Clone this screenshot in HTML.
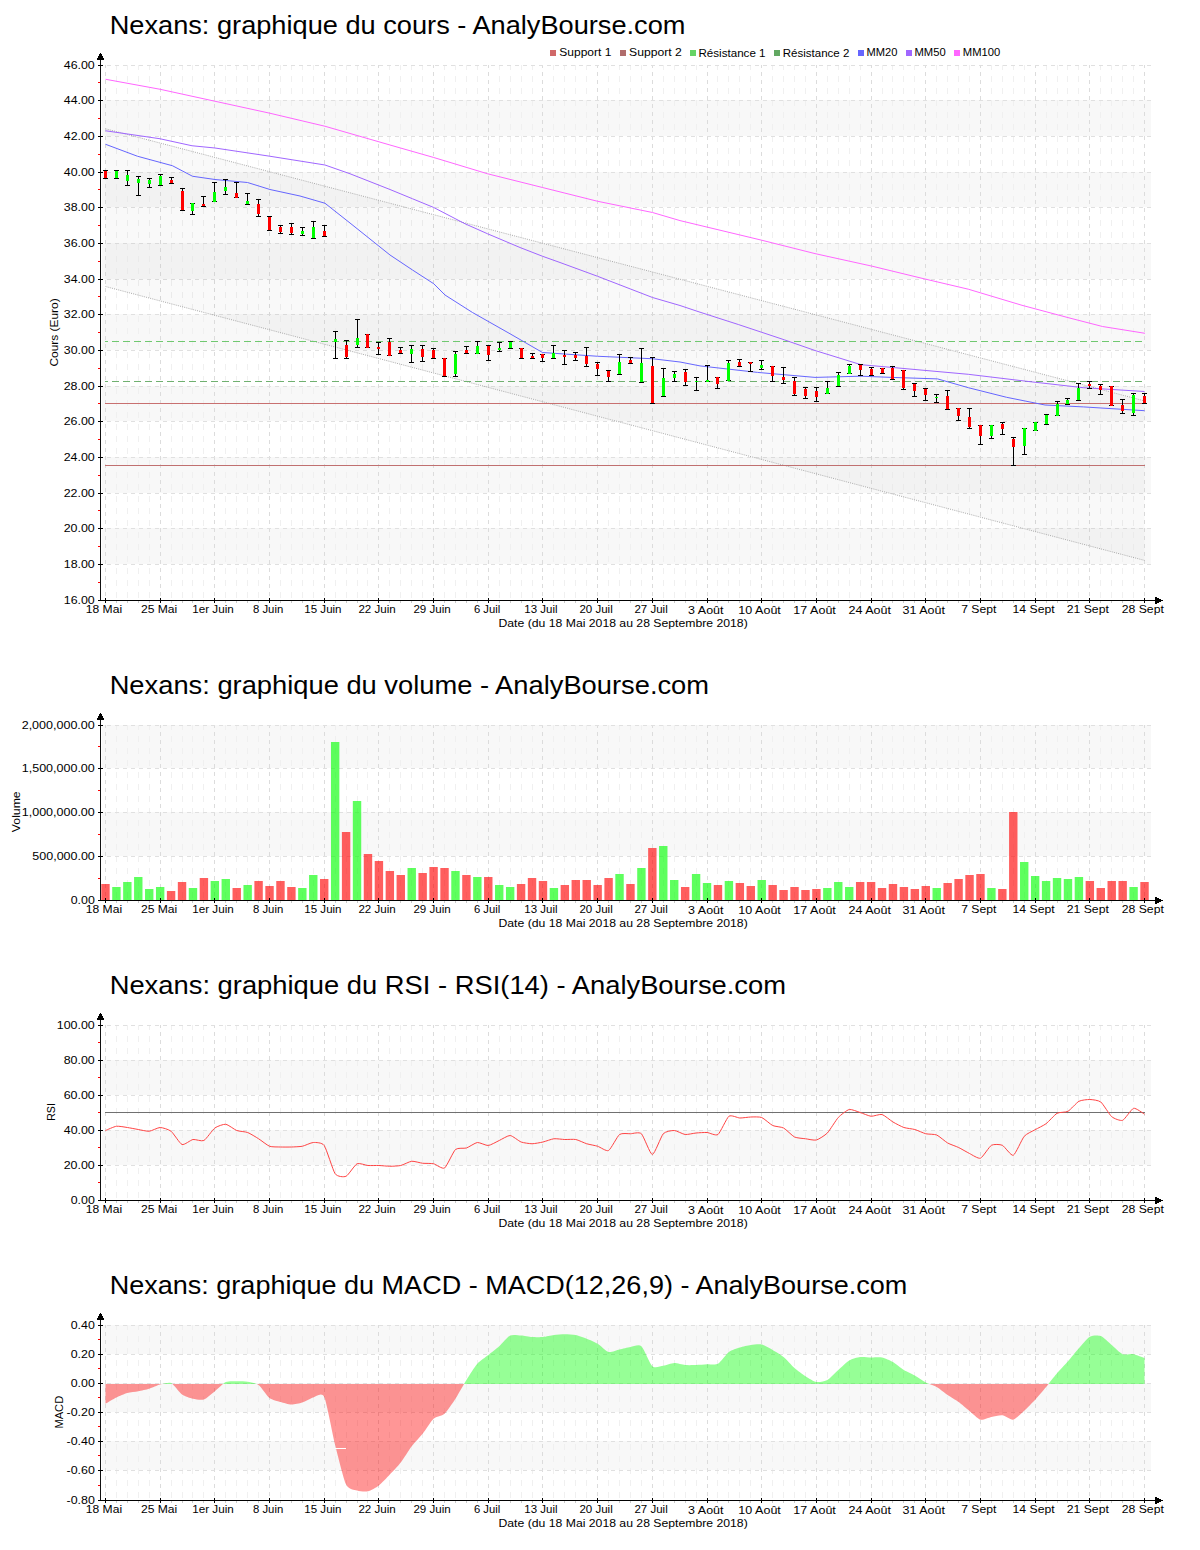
<!DOCTYPE html>
<html><head><meta charset="utf-8"><style>html,body{margin:0;padding:0;background:#fff;}svg{display:block;}</style></head><body>
<svg width="1200" height="1550" viewBox="0 0 1200 1550" font-family='"Liberation Sans", sans-serif'>
<rect width="1200" height="1550" fill="#fff"/>
<rect x="102" y="528" width="1049" height="36" fill="#f8f8f8"/>
<rect x="102" y="457" width="1049" height="36" fill="#f8f8f8"/>
<rect x="102" y="386" width="1049" height="35" fill="#f8f8f8"/>
<rect x="102" y="314" width="1049" height="36" fill="#f8f8f8"/>
<rect x="102" y="243" width="1049" height="36" fill="#f8f8f8"/>
<rect x="102" y="172" width="1049" height="35" fill="#f8f8f8"/>
<rect x="102" y="100" width="1049" height="36" fill="#f8f8f8"/>
<line x1="105.5" y1="65" x2="105.5" y2="600" stroke="#dcdcdc" stroke-dasharray="4 4" stroke-dashoffset="1"/>
<line x1="116.5" y1="65" x2="116.5" y2="600" stroke="#f0f0f0" stroke-dasharray="6 6" stroke-dashoffset="1"/>
<line x1="127.5" y1="65" x2="127.5" y2="600" stroke="#f0f0f0" stroke-dasharray="6 6" stroke-dashoffset="1"/>
<line x1="138.5" y1="65" x2="138.5" y2="600" stroke="#f0f0f0" stroke-dasharray="6 6" stroke-dashoffset="1"/>
<line x1="149.5" y1="65" x2="149.5" y2="600" stroke="#f0f0f0" stroke-dasharray="6 6" stroke-dashoffset="1"/>
<line x1="160.5" y1="65" x2="160.5" y2="600" stroke="#dcdcdc" stroke-dasharray="4 4" stroke-dashoffset="1"/>
<line x1="171.5" y1="65" x2="171.5" y2="600" stroke="#f0f0f0" stroke-dasharray="6 6" stroke-dashoffset="1"/>
<line x1="182.5" y1="65" x2="182.5" y2="600" stroke="#f0f0f0" stroke-dasharray="6 6" stroke-dashoffset="1"/>
<line x1="192.5" y1="65" x2="192.5" y2="600" stroke="#f0f0f0" stroke-dasharray="6 6" stroke-dashoffset="1"/>
<line x1="203.5" y1="65" x2="203.5" y2="600" stroke="#f0f0f0" stroke-dasharray="6 6" stroke-dashoffset="1"/>
<line x1="214.5" y1="65" x2="214.5" y2="600" stroke="#dcdcdc" stroke-dasharray="4 4" stroke-dashoffset="1"/>
<line x1="225.5" y1="65" x2="225.5" y2="600" stroke="#f0f0f0" stroke-dasharray="6 6" stroke-dashoffset="1"/>
<line x1="236.5" y1="65" x2="236.5" y2="600" stroke="#f0f0f0" stroke-dasharray="6 6" stroke-dashoffset="1"/>
<line x1="247.5" y1="65" x2="247.5" y2="600" stroke="#f0f0f0" stroke-dasharray="6 6" stroke-dashoffset="1"/>
<line x1="258.5" y1="65" x2="258.5" y2="600" stroke="#f0f0f0" stroke-dasharray="6 6" stroke-dashoffset="1"/>
<line x1="269.5" y1="65" x2="269.5" y2="600" stroke="#dcdcdc" stroke-dasharray="4 4" stroke-dashoffset="1"/>
<line x1="280.5" y1="65" x2="280.5" y2="600" stroke="#f0f0f0" stroke-dasharray="6 6" stroke-dashoffset="1"/>
<line x1="291.5" y1="65" x2="291.5" y2="600" stroke="#f0f0f0" stroke-dasharray="6 6" stroke-dashoffset="1"/>
<line x1="302.5" y1="65" x2="302.5" y2="600" stroke="#f0f0f0" stroke-dasharray="6 6" stroke-dashoffset="1"/>
<line x1="313.5" y1="65" x2="313.5" y2="600" stroke="#f0f0f0" stroke-dasharray="6 6" stroke-dashoffset="1"/>
<line x1="324.5" y1="65" x2="324.5" y2="600" stroke="#dcdcdc" stroke-dasharray="4 4" stroke-dashoffset="1"/>
<line x1="335.5" y1="65" x2="335.5" y2="600" stroke="#f0f0f0" stroke-dasharray="6 6" stroke-dashoffset="1"/>
<line x1="346.5" y1="65" x2="346.5" y2="600" stroke="#f0f0f0" stroke-dasharray="6 6" stroke-dashoffset="1"/>
<line x1="357.5" y1="65" x2="357.5" y2="600" stroke="#f0f0f0" stroke-dasharray="6 6" stroke-dashoffset="1"/>
<line x1="367.5" y1="65" x2="367.5" y2="600" stroke="#f0f0f0" stroke-dasharray="6 6" stroke-dashoffset="1"/>
<line x1="378.5" y1="65" x2="378.5" y2="600" stroke="#dcdcdc" stroke-dasharray="4 4" stroke-dashoffset="1"/>
<line x1="389.5" y1="65" x2="389.5" y2="600" stroke="#f0f0f0" stroke-dasharray="6 6" stroke-dashoffset="1"/>
<line x1="400.5" y1="65" x2="400.5" y2="600" stroke="#f0f0f0" stroke-dasharray="6 6" stroke-dashoffset="1"/>
<line x1="411.5" y1="65" x2="411.5" y2="600" stroke="#f0f0f0" stroke-dasharray="6 6" stroke-dashoffset="1"/>
<line x1="422.5" y1="65" x2="422.5" y2="600" stroke="#f0f0f0" stroke-dasharray="6 6" stroke-dashoffset="1"/>
<line x1="433.5" y1="65" x2="433.5" y2="600" stroke="#dcdcdc" stroke-dasharray="4 4" stroke-dashoffset="1"/>
<line x1="444.5" y1="65" x2="444.5" y2="600" stroke="#f0f0f0" stroke-dasharray="6 6" stroke-dashoffset="1"/>
<line x1="455.5" y1="65" x2="455.5" y2="600" stroke="#f0f0f0" stroke-dasharray="6 6" stroke-dashoffset="1"/>
<line x1="466.5" y1="65" x2="466.5" y2="600" stroke="#f0f0f0" stroke-dasharray="6 6" stroke-dashoffset="1"/>
<line x1="477.5" y1="65" x2="477.5" y2="600" stroke="#f0f0f0" stroke-dasharray="6 6" stroke-dashoffset="1"/>
<line x1="488.5" y1="65" x2="488.5" y2="600" stroke="#dcdcdc" stroke-dasharray="4 4" stroke-dashoffset="1"/>
<line x1="499.5" y1="65" x2="499.5" y2="600" stroke="#f0f0f0" stroke-dasharray="6 6" stroke-dashoffset="1"/>
<line x1="510.5" y1="65" x2="510.5" y2="600" stroke="#f0f0f0" stroke-dasharray="6 6" stroke-dashoffset="1"/>
<line x1="521.5" y1="65" x2="521.5" y2="600" stroke="#f0f0f0" stroke-dasharray="6 6" stroke-dashoffset="1"/>
<line x1="532.5" y1="65" x2="532.5" y2="600" stroke="#f0f0f0" stroke-dasharray="6 6" stroke-dashoffset="1"/>
<line x1="542.5" y1="65" x2="542.5" y2="600" stroke="#dcdcdc" stroke-dasharray="4 4" stroke-dashoffset="1"/>
<line x1="553.5" y1="65" x2="553.5" y2="600" stroke="#f0f0f0" stroke-dasharray="6 6" stroke-dashoffset="1"/>
<line x1="564.5" y1="65" x2="564.5" y2="600" stroke="#f0f0f0" stroke-dasharray="6 6" stroke-dashoffset="1"/>
<line x1="575.5" y1="65" x2="575.5" y2="600" stroke="#f0f0f0" stroke-dasharray="6 6" stroke-dashoffset="1"/>
<line x1="586.5" y1="65" x2="586.5" y2="600" stroke="#f0f0f0" stroke-dasharray="6 6" stroke-dashoffset="1"/>
<line x1="597.5" y1="65" x2="597.5" y2="600" stroke="#dcdcdc" stroke-dasharray="4 4" stroke-dashoffset="1"/>
<line x1="608.5" y1="65" x2="608.5" y2="600" stroke="#f0f0f0" stroke-dasharray="6 6" stroke-dashoffset="1"/>
<line x1="619.5" y1="65" x2="619.5" y2="600" stroke="#f0f0f0" stroke-dasharray="6 6" stroke-dashoffset="1"/>
<line x1="630.5" y1="65" x2="630.5" y2="600" stroke="#f0f0f0" stroke-dasharray="6 6" stroke-dashoffset="1"/>
<line x1="641.5" y1="65" x2="641.5" y2="600" stroke="#f0f0f0" stroke-dasharray="6 6" stroke-dashoffset="1"/>
<line x1="652.5" y1="65" x2="652.5" y2="600" stroke="#dcdcdc" stroke-dasharray="4 4" stroke-dashoffset="1"/>
<line x1="663.5" y1="65" x2="663.5" y2="600" stroke="#f0f0f0" stroke-dasharray="6 6" stroke-dashoffset="1"/>
<line x1="674.5" y1="65" x2="674.5" y2="600" stroke="#f0f0f0" stroke-dasharray="6 6" stroke-dashoffset="1"/>
<line x1="685.5" y1="65" x2="685.5" y2="600" stroke="#f0f0f0" stroke-dasharray="6 6" stroke-dashoffset="1"/>
<line x1="696.5" y1="65" x2="696.5" y2="600" stroke="#f0f0f0" stroke-dasharray="6 6" stroke-dashoffset="1"/>
<line x1="707.5" y1="65" x2="707.5" y2="600" stroke="#dcdcdc" stroke-dasharray="4 4" stroke-dashoffset="1"/>
<line x1="717.5" y1="65" x2="717.5" y2="600" stroke="#f0f0f0" stroke-dasharray="6 6" stroke-dashoffset="1"/>
<line x1="728.5" y1="65" x2="728.5" y2="600" stroke="#f0f0f0" stroke-dasharray="6 6" stroke-dashoffset="1"/>
<line x1="739.5" y1="65" x2="739.5" y2="600" stroke="#f0f0f0" stroke-dasharray="6 6" stroke-dashoffset="1"/>
<line x1="750.5" y1="65" x2="750.5" y2="600" stroke="#f0f0f0" stroke-dasharray="6 6" stroke-dashoffset="1"/>
<line x1="761.5" y1="65" x2="761.5" y2="600" stroke="#dcdcdc" stroke-dasharray="4 4" stroke-dashoffset="1"/>
<line x1="772.5" y1="65" x2="772.5" y2="600" stroke="#f0f0f0" stroke-dasharray="6 6" stroke-dashoffset="1"/>
<line x1="783.5" y1="65" x2="783.5" y2="600" stroke="#f0f0f0" stroke-dasharray="6 6" stroke-dashoffset="1"/>
<line x1="794.5" y1="65" x2="794.5" y2="600" stroke="#f0f0f0" stroke-dasharray="6 6" stroke-dashoffset="1"/>
<line x1="805.5" y1="65" x2="805.5" y2="600" stroke="#f0f0f0" stroke-dasharray="6 6" stroke-dashoffset="1"/>
<line x1="816.5" y1="65" x2="816.5" y2="600" stroke="#dcdcdc" stroke-dasharray="4 4" stroke-dashoffset="1"/>
<line x1="827.5" y1="65" x2="827.5" y2="600" stroke="#f0f0f0" stroke-dasharray="6 6" stroke-dashoffset="1"/>
<line x1="838.5" y1="65" x2="838.5" y2="600" stroke="#f0f0f0" stroke-dasharray="6 6" stroke-dashoffset="1"/>
<line x1="849.5" y1="65" x2="849.5" y2="600" stroke="#f0f0f0" stroke-dasharray="6 6" stroke-dashoffset="1"/>
<line x1="860.5" y1="65" x2="860.5" y2="600" stroke="#f0f0f0" stroke-dasharray="6 6" stroke-dashoffset="1"/>
<line x1="871.5" y1="65" x2="871.5" y2="600" stroke="#dcdcdc" stroke-dasharray="4 4" stroke-dashoffset="1"/>
<line x1="882.5" y1="65" x2="882.5" y2="600" stroke="#f0f0f0" stroke-dasharray="6 6" stroke-dashoffset="1"/>
<line x1="892.5" y1="65" x2="892.5" y2="600" stroke="#f0f0f0" stroke-dasharray="6 6" stroke-dashoffset="1"/>
<line x1="903.5" y1="65" x2="903.5" y2="600" stroke="#f0f0f0" stroke-dasharray="6 6" stroke-dashoffset="1"/>
<line x1="914.5" y1="65" x2="914.5" y2="600" stroke="#f0f0f0" stroke-dasharray="6 6" stroke-dashoffset="1"/>
<line x1="925.5" y1="65" x2="925.5" y2="600" stroke="#dcdcdc" stroke-dasharray="4 4" stroke-dashoffset="1"/>
<line x1="936.5" y1="65" x2="936.5" y2="600" stroke="#f0f0f0" stroke-dasharray="6 6" stroke-dashoffset="1"/>
<line x1="947.5" y1="65" x2="947.5" y2="600" stroke="#f0f0f0" stroke-dasharray="6 6" stroke-dashoffset="1"/>
<line x1="958.5" y1="65" x2="958.5" y2="600" stroke="#f0f0f0" stroke-dasharray="6 6" stroke-dashoffset="1"/>
<line x1="969.5" y1="65" x2="969.5" y2="600" stroke="#f0f0f0" stroke-dasharray="6 6" stroke-dashoffset="1"/>
<line x1="980.5" y1="65" x2="980.5" y2="600" stroke="#dcdcdc" stroke-dasharray="4 4" stroke-dashoffset="1"/>
<line x1="991.5" y1="65" x2="991.5" y2="600" stroke="#f0f0f0" stroke-dasharray="6 6" stroke-dashoffset="1"/>
<line x1="1002.5" y1="65" x2="1002.5" y2="600" stroke="#f0f0f0" stroke-dasharray="6 6" stroke-dashoffset="1"/>
<line x1="1013.5" y1="65" x2="1013.5" y2="600" stroke="#f0f0f0" stroke-dasharray="6 6" stroke-dashoffset="1"/>
<line x1="1024.5" y1="65" x2="1024.5" y2="600" stroke="#f0f0f0" stroke-dasharray="6 6" stroke-dashoffset="1"/>
<line x1="1035.5" y1="65" x2="1035.5" y2="600" stroke="#dcdcdc" stroke-dasharray="4 4" stroke-dashoffset="1"/>
<line x1="1046.5" y1="65" x2="1046.5" y2="600" stroke="#f0f0f0" stroke-dasharray="6 6" stroke-dashoffset="1"/>
<line x1="1057.5" y1="65" x2="1057.5" y2="600" stroke="#f0f0f0" stroke-dasharray="6 6" stroke-dashoffset="1"/>
<line x1="1067.5" y1="65" x2="1067.5" y2="600" stroke="#f0f0f0" stroke-dasharray="6 6" stroke-dashoffset="1"/>
<line x1="1078.5" y1="65" x2="1078.5" y2="600" stroke="#f0f0f0" stroke-dasharray="6 6" stroke-dashoffset="1"/>
<line x1="1089.5" y1="65" x2="1089.5" y2="600" stroke="#dcdcdc" stroke-dasharray="4 4" stroke-dashoffset="1"/>
<line x1="1100.5" y1="65" x2="1100.5" y2="600" stroke="#f0f0f0" stroke-dasharray="6 6" stroke-dashoffset="1"/>
<line x1="1111.5" y1="65" x2="1111.5" y2="600" stroke="#f0f0f0" stroke-dasharray="6 6" stroke-dashoffset="1"/>
<line x1="1122.5" y1="65" x2="1122.5" y2="600" stroke="#f0f0f0" stroke-dasharray="6 6" stroke-dashoffset="1"/>
<line x1="1133.5" y1="65" x2="1133.5" y2="600" stroke="#f0f0f0" stroke-dasharray="6 6" stroke-dashoffset="1"/>
<line x1="1144.5" y1="65" x2="1144.5" y2="600" stroke="#dcdcdc" stroke-dasharray="4 4" stroke-dashoffset="1"/>
<line x1="107" y1="65.5" x2="1151" y2="65.5" stroke="#e0e0e0" stroke-dasharray="4 4"/>
<line x1="107" y1="100.5" x2="1151" y2="100.5" stroke="#e0e0e0" stroke-dasharray="4 4"/>
<line x1="107" y1="136.5" x2="1151" y2="136.5" stroke="#e0e0e0" stroke-dasharray="4 4"/>
<line x1="107" y1="172.5" x2="1151" y2="172.5" stroke="#e0e0e0" stroke-dasharray="4 4"/>
<line x1="107" y1="207.5" x2="1151" y2="207.5" stroke="#e0e0e0" stroke-dasharray="4 4"/>
<line x1="107" y1="243.5" x2="1151" y2="243.5" stroke="#e0e0e0" stroke-dasharray="4 4"/>
<line x1="107" y1="279.5" x2="1151" y2="279.5" stroke="#e0e0e0" stroke-dasharray="4 4"/>
<line x1="107" y1="314.5" x2="1151" y2="314.5" stroke="#e0e0e0" stroke-dasharray="4 4"/>
<line x1="107" y1="350.5" x2="1151" y2="350.5" stroke="#e0e0e0" stroke-dasharray="4 4"/>
<line x1="107" y1="386.5" x2="1151" y2="386.5" stroke="#e0e0e0" stroke-dasharray="4 4"/>
<line x1="107" y1="421.5" x2="1151" y2="421.5" stroke="#e0e0e0" stroke-dasharray="4 4"/>
<line x1="107" y1="457.5" x2="1151" y2="457.5" stroke="#e0e0e0" stroke-dasharray="4 4"/>
<line x1="107" y1="493.5" x2="1151" y2="493.5" stroke="#e0e0e0" stroke-dasharray="4 4"/>
<line x1="107" y1="528.5" x2="1151" y2="528.5" stroke="#e0e0e0" stroke-dasharray="4 4"/>
<line x1="107" y1="564.5" x2="1151" y2="564.5" stroke="#e0e0e0" stroke-dasharray="4 4"/>
<polygon points="105.5,128.75 1144.5,400.9 1144.5,560.4 105.5,286.5" fill="#000" fill-opacity="0.022"/>
<line x1="105.5" y1="128.75" x2="1144.5" y2="400.9" stroke="#aaa" stroke-width="1" stroke-dasharray="1 1.2"/>
<line x1="105.5" y1="286.5" x2="1144.5" y2="560.4" stroke="#aaa" stroke-width="1" stroke-dasharray="1 1.2"/>
<line x1="105" y1="341.5" x2="1145" y2="341.5" stroke="#70c870" stroke-dasharray="7 4" stroke-dashoffset="4"/>
<line x1="105" y1="381.5" x2="1145" y2="381.5" stroke="#70b070" stroke-dasharray="7 4" stroke-dashoffset="4"/>
<line x1="105" y1="403.5" x2="1145" y2="403.5" stroke="#c87070"/>
<line x1="105" y1="465.5" x2="1145" y2="465.5" stroke="#c07070"/>
<polyline points="105.50,79.25 160.00,89.25 215.00,101.25 270.00,113.25 325.00,126.25 390.00,145.00 433.75,157.50 487.50,173.75 542.50,187.50 597.50,201.25 652.50,212.50 680.00,220.60 761.25,240.10 815.00,253.60 871.75,266.10 922.00,278.30 968.30,289.20 1022.00,305.30 1068.00,317.60 1102.50,326.50 1145.00,333.30" fill="none" stroke="#ff66ff"/>
<polyline points="105.50,130.75 160.00,138.75 192.00,145.75 215.00,148.00 270.00,156.25 325.00,165.00 350.00,173.75 390.00,189.50 412.50,198.75 433.75,207.50 465.00,223.75 487.50,233.75 520.00,247.50 542.50,256.25 560.00,262.50 597.50,276.25 652.50,297.50 680.00,305.50 700.00,312.20 738.30,324.50 784.30,339.80 815.00,350.50 861.00,364.70 891.60,367.40 968.30,374.30 1025.80,381.20 1083.30,387.70 1144.60,391.50" fill="none" stroke="#a066ff"/>
<polyline points="105.50,144.25 137.50,156.25 172.50,165.75 192.50,176.25 215.00,179.50 247.50,182.50 270.00,189.50 300.00,196.00 325.00,203.25 350.00,223.00 390.00,255.00 412.50,270.00 433.75,283.75 445.00,295.00 472.50,312.50 510.00,333.75 542.50,352.50 597.50,356.25 652.50,358.75 680.00,362.00 700.00,365.90 757.50,372.40 815.00,377.40 861.00,376.20 891.60,377.40 937.60,378.90 968.30,387.70 1006.60,397.30 1045.00,405.00 1083.30,406.90 1144.60,410.70" fill="none" stroke="#6666ff"/>
<path d="M105.5 170.5 V178.5 M103 170.5 h5 M103 178.5 h5" stroke="#000" fill="none"/>
<rect x="104" y="171" width="3" height="7" fill="#ff0000"/>
<path d="M116.5 170.5 V178.5 M114 170.5 h5 M114 178.5 h5" stroke="#000" fill="none"/>
<rect x="115" y="171" width="3" height="7" fill="#00ff00"/>
<path d="M127.5 170.5 V185.5 M125 170.5 h5 M125 185.5 h5" stroke="#000" fill="none"/>
<rect x="126" y="175" width="3" height="6" fill="#00ff00"/>
<path d="M138.5 176.5 V195.5 M136 176.5 h5 M136 195.5 h5" stroke="#000" fill="none"/>
<rect x="137" y="179" width="3" height="4" fill="#00ff00"/>
<path d="M149.5 178.5 V187.5 M147 178.5 h5 M147 187.5 h5" stroke="#000" fill="none"/>
<rect x="148" y="180" width="3" height="4" fill="#00ff00"/>
<path d="M160.5 174.5 V185.5 M158 174.5 h5 M158 185.5 h5" stroke="#000" fill="none"/>
<rect x="159" y="176" width="3" height="9" fill="#00ff00"/>
<path d="M171.5 177.5 V183.5 M169 177.5 h5 M169 183.5 h5" stroke="#000" fill="none"/>
<rect x="170" y="180" width="3" height="3" fill="#ff0000"/>
<path d="M182.5 188.5 V210.5 M180 188.5 h5 M180 210.5 h5" stroke="#000" fill="none"/>
<rect x="181" y="191" width="3" height="19" fill="#ff0000"/>
<path d="M192.5 203.5 V214.5 M190 203.5 h5 M190 214.5 h5" stroke="#000" fill="none"/>
<rect x="191" y="203" width="3" height="8" fill="#00ff00"/>
<path d="M203.5 196.5 V206.5 M201 196.5 h5 M201 206.5 h5" stroke="#000" fill="none"/>
<rect x="202" y="204" width="3" height="2" fill="#ff0000"/>
<path d="M214.5 182.5 V201.5 M212 182.5 h5 M212 201.5 h5" stroke="#000" fill="none"/>
<rect x="213" y="192" width="3" height="10" fill="#00ff00"/>
<path d="M225.5 179.5 V194.5 M223 179.5 h5 M223 194.5 h5" stroke="#000" fill="none"/>
<rect x="224" y="187" width="3" height="4" fill="#00ff00"/>
<path d="M236.5 182.5 V197.5 M234 182.5 h5 M234 197.5 h5" stroke="#000" fill="none"/>
<rect x="235" y="193" width="3" height="5" fill="#ff0000"/>
<path d="M247.5 193.5 V204.5 M245 193.5 h5 M245 204.5 h5" stroke="#000" fill="none"/>
<rect x="246" y="201" width="3" height="3" fill="#00ff00"/>
<path d="M258.5 199.5 V216.5 M256 199.5 h5 M256 216.5 h5" stroke="#000" fill="none"/>
<rect x="257" y="204" width="3" height="10" fill="#ff0000"/>
<path d="M269.5 216.5 V230.5 M267 216.5 h5 M267 230.5 h5" stroke="#000" fill="none"/>
<rect x="268" y="217" width="3" height="13" fill="#ff0000"/>
<path d="M280.5 225.5 V233.5 M278 225.5 h5 M278 233.5 h5" stroke="#000" fill="none"/>
<rect x="279" y="227" width="3" height="5" fill="#ff0000"/>
<path d="M291.5 223.5 V234.5 M289 223.5 h5 M289 234.5 h5" stroke="#000" fill="none"/>
<rect x="290" y="227" width="3" height="6" fill="#ff0000"/>
<path d="M302.5 227.5 V235.5 M300 227.5 h5 M300 235.5 h5" stroke="#000" fill="none"/>
<rect x="301" y="231" width="3" height="3" fill="#00ff00"/>
<path d="M313.5 221.5 V238.5 M311 221.5 h5 M311 238.5 h5" stroke="#000" fill="none"/>
<rect x="312" y="227" width="3" height="11" fill="#00ff00"/>
<path d="M324.5 225.5 V236.5 M322 225.5 h5 M322 236.5 h5" stroke="#000" fill="none"/>
<rect x="323" y="231" width="3" height="5" fill="#ff0000"/>
<path d="M335.5 331.5 V358.5 M333 331.5 h5 M333 358.5 h5" stroke="#000" fill="none"/>
<rect x="334" y="339" width="3" height="3" fill="#00ff00"/>
<path d="M346.5 340.5 V358.5 M344 340.5 h5 M344 358.5 h5" stroke="#000" fill="none"/>
<rect x="345" y="345" width="3" height="12" fill="#ff0000"/>
<path d="M357.5 319.5 V347.5 M355 319.5 h5 M355 347.5 h5" stroke="#000" fill="none"/>
<rect x="356" y="338" width="3" height="7" fill="#00ff00"/>
<path d="M367.5 334.5 V347.5 M365 334.5 h5 M365 347.5 h5" stroke="#000" fill="none"/>
<rect x="366" y="334" width="3" height="14" fill="#ff0000"/>
<path d="M378.5 342.5 V354.5 M376 342.5 h5 M376 354.5 h5" stroke="#000" fill="none"/>
<rect x="377" y="347" width="3" height="2" fill="#ff0000"/>
<path d="M389.5 338.5 V355.5 M387 338.5 h5 M387 355.5 h5" stroke="#000" fill="none"/>
<rect x="388" y="342" width="3" height="14" fill="#ff0000"/>
<path d="M400.5 347.5 V353.5 M398 347.5 h5 M398 353.5 h5" stroke="#000" fill="none"/>
<rect x="399" y="350" width="3" height="3" fill="#ff0000"/>
<path d="M411.5 345.5 V362.5 M409 345.5 h5 M409 362.5 h5" stroke="#000" fill="none"/>
<rect x="410" y="349" width="3" height="5" fill="#00ff00"/>
<path d="M422.5 345.5 V361.5 M420 345.5 h5 M420 361.5 h5" stroke="#000" fill="none"/>
<rect x="421" y="349" width="3" height="8" fill="#ff0000"/>
<path d="M433.5 348.5 V358.5 M431 348.5 h5 M431 358.5 h5" stroke="#000" fill="none"/>
<rect x="432" y="350" width="3" height="8" fill="#ff0000"/>
<path d="M444.5 358.5 V376.5 M442 358.5 h5 M442 376.5 h5" stroke="#000" fill="none"/>
<rect x="443" y="358" width="3" height="18" fill="#ff0000"/>
<path d="M455.5 351.5 V376.5 M453 351.5 h5 M453 376.5 h5" stroke="#000" fill="none"/>
<rect x="454" y="354" width="3" height="20" fill="#00ff00"/>
<path d="M466.5 346.5 V353.5 M464 346.5 h5 M464 353.5 h5" stroke="#000" fill="none"/>
<rect x="465" y="350" width="3" height="3" fill="#ff0000"/>
<path d="M477.5 341.5 V353.5 M475 341.5 h5 M475 353.5 h5" stroke="#000" fill="none"/>
<rect x="476" y="346" width="3" height="8" fill="#00ff00"/>
<path d="M488.5 345.5 V360.5 M486 345.5 h5 M486 360.5 h5" stroke="#000" fill="none"/>
<rect x="487" y="346" width="3" height="9" fill="#ff0000"/>
<path d="M499.5 342.5 V351.5 M497 342.5 h5 M497 351.5 h5" stroke="#000" fill="none"/>
<rect x="498" y="348" width="3" height="2" fill="#00ff00"/>
<path d="M510.5 341.5 V348.5 M508 341.5 h5 M508 348.5 h5" stroke="#000" fill="none"/>
<rect x="509" y="342" width="3" height="6" fill="#00ff00"/>
<path d="M521.5 348.5 V358.5 M519 348.5 h5 M519 358.5 h5" stroke="#000" fill="none"/>
<rect x="520" y="348" width="3" height="10" fill="#ff0000"/>
<path d="M532.5 353.5 V358.5 M530 353.5 h5 M530 358.5 h5" stroke="#000" fill="none"/>
<rect x="531" y="356" width="3" height="2" fill="#ff0000"/>
<path d="M542.5 354.5 V361.5 M540 354.5 h5 M540 361.5 h5" stroke="#000" fill="none"/>
<rect x="541" y="354" width="3" height="4" fill="#ff0000"/>
<path d="M553.5 345.5 V358.5 M551 345.5 h5 M551 358.5 h5" stroke="#000" fill="none"/>
<rect x="552" y="353" width="3" height="5" fill="#00ff00"/>
<path d="M564.5 350.5 V364.5 M562 350.5 h5 M562 364.5 h5" stroke="#000" fill="none"/>
<rect x="563" y="355" width="3" height="2" fill="#ff0000"/>
<path d="M575.5 352.5 V360.5 M573 352.5 h5 M573 360.5 h5" stroke="#000" fill="none"/>
<rect x="574" y="355" width="3" height="3" fill="#ff0000"/>
<path d="M586.5 347.5 V366.5 M584 347.5 h5 M584 366.5 h5" stroke="#000" fill="none"/>
<rect x="585" y="356" width="3" height="8" fill="#ff0000"/>
<path d="M597.5 362.5 V375.5 M595 362.5 h5 M595 375.5 h5" stroke="#000" fill="none"/>
<rect x="596" y="364" width="3" height="5" fill="#ff0000"/>
<path d="M608.5 370.5 V381.5 M606 370.5 h5 M606 381.5 h5" stroke="#000" fill="none"/>
<rect x="607" y="371" width="3" height="6" fill="#ff0000"/>
<path d="M619.5 354.5 V374.5 M617 354.5 h5 M617 374.5 h5" stroke="#000" fill="none"/>
<rect x="618" y="362" width="3" height="12" fill="#00ff00"/>
<path d="M630.5 357.5 V363.5 M628 357.5 h5 M628 363.5 h5" stroke="#000" fill="none"/>
<rect x="629" y="360" width="3" height="3" fill="#ff0000"/>
<path d="M641.5 348.5 V382.5 M639 348.5 h5 M639 382.5 h5" stroke="#000" fill="none"/>
<rect x="640" y="363" width="3" height="19" fill="#00ff00"/>
<path d="M652.5 357.5 V403.5 M650 357.5 h5 M650 403.5 h5" stroke="#000" fill="none"/>
<rect x="651" y="366" width="3" height="37" fill="#ff0000"/>
<path d="M663.5 368.5 V396.5 M661 368.5 h5 M661 396.5 h5" stroke="#000" fill="none"/>
<rect x="662" y="378" width="3" height="18" fill="#00ff00"/>
<path d="M674.5 371.5 V381.5 M672 371.5 h5 M672 381.5 h5" stroke="#000" fill="none"/>
<rect x="673" y="374" width="3" height="4" fill="#00ff00"/>
<path d="M685.5 369.5 V385.5 M683 369.5 h5 M683 385.5 h5" stroke="#000" fill="none"/>
<rect x="684" y="372" width="3" height="10" fill="#ff0000"/>
<path d="M696.5 377.5 V390.5 M694 377.5 h5 M694 390.5 h5" stroke="#000" fill="none"/>
<rect x="695" y="381" width="3" height="1" fill="#00ff00"/>
<path d="M707.5 365.5 V381.5 M705 365.5 h5 M705 381.5 h5" stroke="#000" fill="none"/>
<rect x="706" y="380" width="3" height="2" fill="#00ff00"/>
<path d="M717.5 377.5 V388.5 M715 377.5 h5 M715 388.5 h5" stroke="#000" fill="none"/>
<rect x="716" y="377" width="3" height="7" fill="#ff0000"/>
<path d="M728.5 360.5 V380.5 M726 360.5 h5 M726 380.5 h5" stroke="#000" fill="none"/>
<rect x="727" y="363" width="3" height="18" fill="#00ff00"/>
<path d="M739.5 359.5 V366.5 M737 359.5 h5 M737 366.5 h5" stroke="#000" fill="none"/>
<rect x="738" y="362" width="3" height="4" fill="#ff0000"/>
<path d="M750.5 362.5 V371.5 M748 362.5 h5 M748 371.5 h5" stroke="#000" fill="none"/>
<rect x="749" y="362" width="3" height="2" fill="#ff0000"/>
<path d="M761.5 360.5 V369.5 M759 360.5 h5 M759 369.5 h5" stroke="#000" fill="none"/>
<rect x="760" y="365" width="3" height="3" fill="#00ff00"/>
<path d="M772.5 366.5 V381.5 M770 366.5 h5 M770 381.5 h5" stroke="#000" fill="none"/>
<rect x="771" y="366" width="3" height="10" fill="#ff0000"/>
<path d="M783.5 367.5 V383.5 M781 367.5 h5 M781 383.5 h5" stroke="#000" fill="none"/>
<rect x="782" y="377" width="3" height="3" fill="#ff0000"/>
<path d="M794.5 377.5 V395.5 M792 377.5 h5 M792 395.5 h5" stroke="#000" fill="none"/>
<rect x="793" y="381" width="3" height="13" fill="#ff0000"/>
<path d="M805.5 387.5 V398.5 M803 387.5 h5 M803 398.5 h5" stroke="#000" fill="none"/>
<rect x="804" y="389" width="3" height="7" fill="#ff0000"/>
<path d="M816.5 387.5 V401.5 M814 387.5 h5 M814 401.5 h5" stroke="#000" fill="none"/>
<rect x="815" y="391" width="3" height="6" fill="#ff0000"/>
<path d="M827.5 381.5 V393.5 M825 381.5 h5 M825 393.5 h5" stroke="#000" fill="none"/>
<rect x="826" y="388" width="3" height="6" fill="#00ff00"/>
<path d="M838.5 372.5 V386.5 M836 372.5 h5 M836 386.5 h5" stroke="#000" fill="none"/>
<rect x="837" y="375" width="3" height="11" fill="#00ff00"/>
<path d="M849.5 364.5 V373.5 M847 364.5 h5 M847 373.5 h5" stroke="#000" fill="none"/>
<rect x="848" y="366" width="3" height="8" fill="#00ff00"/>
<path d="M860.5 364.5 V375.5 M858 364.5 h5 M858 375.5 h5" stroke="#000" fill="none"/>
<rect x="859" y="365" width="3" height="5" fill="#ff0000"/>
<path d="M871.5 367.5 V375.5 M869 367.5 h5 M869 375.5 h5" stroke="#000" fill="none"/>
<rect x="870" y="369" width="3" height="6" fill="#ff0000"/>
<path d="M882.5 368.5 V373.5 M880 368.5 h5 M880 373.5 h5" stroke="#000" fill="none"/>
<rect x="881" y="368" width="3" height="5" fill="#ff0000"/>
<path d="M892.5 366.5 V379.5 M890 366.5 h5 M890 379.5 h5" stroke="#000" fill="none"/>
<rect x="891" y="368" width="3" height="11" fill="#ff0000"/>
<path d="M903.5 370.5 V389.5 M901 370.5 h5 M901 389.5 h5" stroke="#000" fill="none"/>
<rect x="902" y="370" width="3" height="18" fill="#ff0000"/>
<path d="M914.5 383.5 V396.5 M912 383.5 h5 M912 396.5 h5" stroke="#000" fill="none"/>
<rect x="913" y="384" width="3" height="7" fill="#ff0000"/>
<path d="M925.5 388.5 V400.5 M923 388.5 h5 M923 400.5 h5" stroke="#000" fill="none"/>
<rect x="924" y="389" width="3" height="6" fill="#ff0000"/>
<path d="M936.5 394.5 V402.5 M934 394.5 h5 M934 402.5 h5" stroke="#000" fill="none"/>
<rect x="935" y="397" width="3" height="1" fill="#00ff00"/>
<path d="M947.5 390.5 V409.5 M945 390.5 h5 M945 409.5 h5" stroke="#000" fill="none"/>
<rect x="946" y="396" width="3" height="13" fill="#ff0000"/>
<path d="M958.5 408.5 V420.5 M956 408.5 h5 M956 420.5 h5" stroke="#000" fill="none"/>
<rect x="957" y="408" width="3" height="8" fill="#ff0000"/>
<path d="M969.5 408.5 V428.5 M967 408.5 h5 M967 428.5 h5" stroke="#000" fill="none"/>
<rect x="968" y="417" width="3" height="10" fill="#ff0000"/>
<path d="M980.5 425.5 V444.5 M978 425.5 h5 M978 444.5 h5" stroke="#000" fill="none"/>
<rect x="979" y="425" width="3" height="11" fill="#ff0000"/>
<path d="M991.5 425.5 V438.5 M989 425.5 h5 M989 438.5 h5" stroke="#000" fill="none"/>
<rect x="990" y="425" width="3" height="11" fill="#00ff00"/>
<path d="M1002.5 422.5 V434.5 M1000 422.5 h5 M1000 434.5 h5" stroke="#000" fill="none"/>
<rect x="1001" y="424" width="3" height="5" fill="#ff0000"/>
<path d="M1013.5 437.5 V465.5 M1011 437.5 h5 M1011 465.5 h5" stroke="#000" fill="none"/>
<rect x="1012" y="439" width="3" height="8" fill="#ff0000"/>
<path d="M1024.5 428.5 V454.5 M1022 428.5 h5 M1022 454.5 h5" stroke="#000" fill="none"/>
<rect x="1023" y="428" width="3" height="18" fill="#00ff00"/>
<path d="M1035.5 422.5 V430.5 M1033 422.5 h5 M1033 430.5 h5" stroke="#000" fill="none"/>
<rect x="1034" y="422" width="3" height="9" fill="#00ff00"/>
<path d="M1046.5 414.5 V424.5 M1044 414.5 h5 M1044 424.5 h5" stroke="#000" fill="none"/>
<rect x="1045" y="415" width="3" height="9" fill="#00ff00"/>
<path d="M1057.5 401.5 V415.5 M1055 401.5 h5 M1055 415.5 h5" stroke="#000" fill="none"/>
<rect x="1056" y="404" width="3" height="12" fill="#00ff00"/>
<path d="M1067.5 398.5 V404.5 M1065 398.5 h5 M1065 404.5 h5" stroke="#000" fill="none"/>
<rect x="1066" y="400" width="3" height="4" fill="#00ff00"/>
<path d="M1078.5 383.5 V400.5 M1076 383.5 h5 M1076 400.5 h5" stroke="#000" fill="none"/>
<rect x="1077" y="388" width="3" height="12" fill="#00ff00"/>
<path d="M1089.5 381.5 V388.5 M1087 381.5 h5 M1087 388.5 h5" stroke="#000" fill="none"/>
<rect x="1088" y="384" width="3" height="2" fill="#ff0000"/>
<path d="M1100.5 384.5 V394.5 M1098 384.5 h5 M1098 394.5 h5" stroke="#000" fill="none"/>
<rect x="1099" y="386" width="3" height="4" fill="#ff0000"/>
<path d="M1111.5 386.5 V405.5 M1109 386.5 h5 M1109 405.5 h5" stroke="#000" fill="none"/>
<rect x="1110" y="386" width="3" height="20" fill="#ff0000"/>
<path d="M1122.5 399.5 V413.5 M1120 399.5 h5 M1120 413.5 h5" stroke="#000" fill="none"/>
<rect x="1121" y="405" width="3" height="6" fill="#ff0000"/>
<path d="M1133.5 393.5 V415.5 M1131 393.5 h5 M1131 415.5 h5" stroke="#000" fill="none"/>
<rect x="1132" y="395" width="3" height="18" fill="#00ff00"/>
<path d="M1144.5 393.5 V403.5 M1142 393.5 h5 M1142 403.5 h5" stroke="#000" fill="none"/>
<rect x="1143" y="396" width="3" height="7" fill="#ff0000"/>
<line x1="100.5" y1="60" x2="100.5" y2="600.5" stroke="#111"/>
<path d="M100 53 h1 v1 h1 v2 h1 v2 h1 v2 h-7 v-2 h1 v-2 h1 v-2 h1 z" fill="#000"/>
<line x1="98" y1="600.5" x2="1163" y2="600.5" stroke="#000"/>
<path d="M1155 597 h2 v1 h2 v1 h2 v3 h-2 v1 h-2 v1 h-2 z" fill="#000"/>
<line x1="98" y1="65.5" x2="103" y2="65.5" stroke="#000"/>
<text x="63.78" y="69.00" font-size="11.5" textLength="30.98" lengthAdjust="spacingAndGlyphs" fill="#000">46.00</text>
<line x1="98" y1="100.5" x2="103" y2="100.5" stroke="#000"/>
<text x="63.78" y="104.00" font-size="11.5" textLength="30.98" lengthAdjust="spacingAndGlyphs" fill="#000">44.00</text>
<line x1="98" y1="136.5" x2="103" y2="136.5" stroke="#000"/>
<text x="63.78" y="140.00" font-size="11.5" textLength="30.98" lengthAdjust="spacingAndGlyphs" fill="#000">42.00</text>
<line x1="98" y1="172.5" x2="103" y2="172.5" stroke="#000"/>
<text x="63.78" y="176.00" font-size="11.5" textLength="30.98" lengthAdjust="spacingAndGlyphs" fill="#000">40.00</text>
<line x1="98" y1="207.5" x2="103" y2="207.5" stroke="#000"/>
<text x="63.87" y="211.00" font-size="11.5" textLength="30.89" lengthAdjust="spacingAndGlyphs" fill="#000">38.00</text>
<line x1="98" y1="243.5" x2="103" y2="243.5" stroke="#000"/>
<text x="63.87" y="247.00" font-size="11.5" textLength="30.89" lengthAdjust="spacingAndGlyphs" fill="#000">36.00</text>
<line x1="98" y1="279.5" x2="103" y2="279.5" stroke="#000"/>
<text x="63.87" y="283.00" font-size="11.5" textLength="30.89" lengthAdjust="spacingAndGlyphs" fill="#000">34.00</text>
<line x1="98" y1="314.5" x2="103" y2="314.5" stroke="#000"/>
<text x="63.87" y="318.00" font-size="11.5" textLength="30.89" lengthAdjust="spacingAndGlyphs" fill="#000">32.00</text>
<line x1="98" y1="350.5" x2="103" y2="350.5" stroke="#000"/>
<text x="63.87" y="354.00" font-size="11.5" textLength="30.89" lengthAdjust="spacingAndGlyphs" fill="#000">30.00</text>
<line x1="98" y1="386.5" x2="103" y2="386.5" stroke="#000"/>
<text x="63.71" y="390.00" font-size="11.5" textLength="31.06" lengthAdjust="spacingAndGlyphs" fill="#000">28.00</text>
<line x1="98" y1="421.5" x2="103" y2="421.5" stroke="#000"/>
<text x="63.71" y="425.00" font-size="11.5" textLength="31.06" lengthAdjust="spacingAndGlyphs" fill="#000">26.00</text>
<line x1="98" y1="457.5" x2="103" y2="457.5" stroke="#000"/>
<text x="63.71" y="461.00" font-size="11.5" textLength="31.06" lengthAdjust="spacingAndGlyphs" fill="#000">24.00</text>
<line x1="98" y1="493.5" x2="103" y2="493.5" stroke="#000"/>
<text x="63.71" y="497.00" font-size="11.5" textLength="31.06" lengthAdjust="spacingAndGlyphs" fill="#000">22.00</text>
<line x1="98" y1="528.5" x2="103" y2="528.5" stroke="#000"/>
<text x="63.71" y="532.00" font-size="11.5" textLength="31.06" lengthAdjust="spacingAndGlyphs" fill="#000">20.00</text>
<line x1="98" y1="564.5" x2="103" y2="564.5" stroke="#000"/>
<text x="63.79" y="568.00" font-size="11.5" textLength="30.98" lengthAdjust="spacingAndGlyphs" fill="#000">18.00</text>
<line x1="98" y1="600.5" x2="103" y2="600.5" stroke="#000"/>
<text x="63.79" y="604.00" font-size="11.5" textLength="30.98" lengthAdjust="spacingAndGlyphs" fill="#000">16.00</text>
<line x1="98" y1="82.5" x2="100" y2="82.5" stroke="#f00"/>
<line x1="98" y1="118.5" x2="100" y2="118.5" stroke="#f00"/>
<line x1="98" y1="154.5" x2="100" y2="154.5" stroke="#f00"/>
<line x1="98" y1="189.5" x2="100" y2="189.5" stroke="#f00"/>
<line x1="98" y1="225.5" x2="100" y2="225.5" stroke="#f00"/>
<line x1="98" y1="261.5" x2="100" y2="261.5" stroke="#f00"/>
<line x1="98" y1="296.5" x2="100" y2="296.5" stroke="#f00"/>
<line x1="98" y1="332.5" x2="100" y2="332.5" stroke="#f00"/>
<line x1="98" y1="368.5" x2="100" y2="368.5" stroke="#f00"/>
<line x1="98" y1="403.5" x2="100" y2="403.5" stroke="#f00"/>
<line x1="98" y1="439.5" x2="100" y2="439.5" stroke="#f00"/>
<line x1="98" y1="475.5" x2="100" y2="475.5" stroke="#f00"/>
<line x1="98" y1="510.5" x2="100" y2="510.5" stroke="#f00"/>
<line x1="98" y1="546.5" x2="100" y2="546.5" stroke="#f00"/>
<line x1="98" y1="582.5" x2="100" y2="582.5" stroke="#f00"/>
<line x1="105.5" y1="598" x2="105.5" y2="603" stroke="#000"/>
<text x="85.81" y="613.00" font-size="11.5" textLength="36.30" lengthAdjust="spacingAndGlyphs" fill="#000">18 Mai</text>
<line x1="116.5" y1="601" x2="116.5" y2="603" stroke="#c8c8c8"/>
<line x1="127.5" y1="601" x2="127.5" y2="603" stroke="#c8c8c8"/>
<line x1="138.5" y1="601" x2="138.5" y2="603" stroke="#c8c8c8"/>
<line x1="149.5" y1="601" x2="149.5" y2="603" stroke="#c8c8c8"/>
<line x1="160.5" y1="598" x2="160.5" y2="603" stroke="#000"/>
<text x="140.92" y="613.00" font-size="11.5" textLength="36.39" lengthAdjust="spacingAndGlyphs" fill="#000">25 Mai</text>
<line x1="171.5" y1="601" x2="171.5" y2="603" stroke="#c8c8c8"/>
<line x1="182.5" y1="601" x2="182.5" y2="603" stroke="#c8c8c8"/>
<line x1="192.5" y1="601" x2="192.5" y2="603" stroke="#c8c8c8"/>
<line x1="203.5" y1="601" x2="203.5" y2="603" stroke="#c8c8c8"/>
<line x1="214.5" y1="598" x2="214.5" y2="603" stroke="#000"/>
<text x="192.19" y="613.00" font-size="11.5" textLength="41.54" lengthAdjust="spacingAndGlyphs" fill="#000">1er Juin</text>
<line x1="225.5" y1="601" x2="225.5" y2="603" stroke="#c8c8c8"/>
<line x1="236.5" y1="601" x2="236.5" y2="603" stroke="#c8c8c8"/>
<line x1="247.5" y1="601" x2="247.5" y2="603" stroke="#c8c8c8"/>
<line x1="258.5" y1="601" x2="258.5" y2="603" stroke="#c8c8c8"/>
<line x1="269.5" y1="598" x2="269.5" y2="603" stroke="#000"/>
<text x="252.98" y="613.00" font-size="11.5" textLength="30.27" lengthAdjust="spacingAndGlyphs" fill="#000">8 Juin</text>
<line x1="280.5" y1="601" x2="280.5" y2="603" stroke="#c8c8c8"/>
<line x1="291.5" y1="601" x2="291.5" y2="603" stroke="#c8c8c8"/>
<line x1="302.5" y1="601" x2="302.5" y2="603" stroke="#c8c8c8"/>
<line x1="313.5" y1="601" x2="313.5" y2="603" stroke="#c8c8c8"/>
<line x1="324.5" y1="598" x2="324.5" y2="603" stroke="#000"/>
<text x="304.35" y="613.00" font-size="11.5" textLength="37.19" lengthAdjust="spacingAndGlyphs" fill="#000">15 Juin</text>
<line x1="335.5" y1="601" x2="335.5" y2="603" stroke="#c8c8c8"/>
<line x1="346.5" y1="601" x2="346.5" y2="603" stroke="#c8c8c8"/>
<line x1="357.5" y1="601" x2="357.5" y2="603" stroke="#c8c8c8"/>
<line x1="367.5" y1="601" x2="367.5" y2="603" stroke="#c8c8c8"/>
<line x1="378.5" y1="598" x2="378.5" y2="603" stroke="#000"/>
<text x="358.45" y="613.00" font-size="11.5" textLength="37.29" lengthAdjust="spacingAndGlyphs" fill="#000">22 Juin</text>
<line x1="389.5" y1="601" x2="389.5" y2="603" stroke="#c8c8c8"/>
<line x1="400.5" y1="601" x2="400.5" y2="603" stroke="#c8c8c8"/>
<line x1="411.5" y1="601" x2="411.5" y2="603" stroke="#c8c8c8"/>
<line x1="422.5" y1="601" x2="422.5" y2="603" stroke="#c8c8c8"/>
<line x1="433.5" y1="598" x2="433.5" y2="603" stroke="#000"/>
<text x="413.45" y="613.00" font-size="11.5" textLength="37.29" lengthAdjust="spacingAndGlyphs" fill="#000">29 Juin</text>
<line x1="444.5" y1="601" x2="444.5" y2="603" stroke="#c8c8c8"/>
<line x1="455.5" y1="601" x2="455.5" y2="603" stroke="#c8c8c8"/>
<line x1="466.5" y1="601" x2="466.5" y2="603" stroke="#c8c8c8"/>
<line x1="477.5" y1="601" x2="477.5" y2="603" stroke="#c8c8c8"/>
<line x1="488.5" y1="598" x2="488.5" y2="603" stroke="#000"/>
<text x="473.94" y="613.00" font-size="11.5" textLength="26.32" lengthAdjust="spacingAndGlyphs" fill="#000">6 Juil</text>
<line x1="499.5" y1="601" x2="499.5" y2="603" stroke="#c8c8c8"/>
<line x1="510.5" y1="601" x2="510.5" y2="603" stroke="#c8c8c8"/>
<line x1="521.5" y1="601" x2="521.5" y2="603" stroke="#c8c8c8"/>
<line x1="532.5" y1="601" x2="532.5" y2="603" stroke="#c8c8c8"/>
<line x1="542.5" y1="598" x2="542.5" y2="603" stroke="#000"/>
<text x="524.35" y="613.00" font-size="11.5" textLength="33.19" lengthAdjust="spacingAndGlyphs" fill="#000">13 Juil</text>
<line x1="553.5" y1="601" x2="553.5" y2="603" stroke="#c8c8c8"/>
<line x1="564.5" y1="601" x2="564.5" y2="603" stroke="#c8c8c8"/>
<line x1="575.5" y1="601" x2="575.5" y2="603" stroke="#c8c8c8"/>
<line x1="586.5" y1="601" x2="586.5" y2="603" stroke="#c8c8c8"/>
<line x1="597.5" y1="598" x2="597.5" y2="603" stroke="#000"/>
<text x="579.45" y="613.00" font-size="11.5" textLength="33.29" lengthAdjust="spacingAndGlyphs" fill="#000">20 Juil</text>
<line x1="608.5" y1="601" x2="608.5" y2="603" stroke="#c8c8c8"/>
<line x1="619.5" y1="601" x2="619.5" y2="603" stroke="#c8c8c8"/>
<line x1="630.5" y1="601" x2="630.5" y2="603" stroke="#c8c8c8"/>
<line x1="641.5" y1="601" x2="641.5" y2="603" stroke="#c8c8c8"/>
<line x1="652.5" y1="598" x2="652.5" y2="603" stroke="#000"/>
<text x="634.45" y="613.00" font-size="11.5" textLength="33.29" lengthAdjust="spacingAndGlyphs" fill="#000">27 Juil</text>
<line x1="663.5" y1="601" x2="663.5" y2="603" stroke="#c8c8c8"/>
<line x1="674.5" y1="601" x2="674.5" y2="603" stroke="#c8c8c8"/>
<line x1="685.5" y1="601" x2="685.5" y2="603" stroke="#c8c8c8"/>
<line x1="696.5" y1="601" x2="696.5" y2="603" stroke="#c8c8c8"/>
<line x1="707.5" y1="598" x2="707.5" y2="603" stroke="#000"/>
<text x="688.14" y="614.20" font-size="11.5" textLength="35.36" lengthAdjust="spacingAndGlyphs" fill="#000">3 Août</text>
<line x1="717.5" y1="601" x2="717.5" y2="603" stroke="#c8c8c8"/>
<line x1="728.5" y1="601" x2="728.5" y2="603" stroke="#c8c8c8"/>
<line x1="739.5" y1="601" x2="739.5" y2="603" stroke="#c8c8c8"/>
<line x1="750.5" y1="601" x2="750.5" y2="603" stroke="#c8c8c8"/>
<line x1="761.5" y1="598" x2="761.5" y2="603" stroke="#000"/>
<text x="738.38" y="614.20" font-size="11.5" textLength="42.45" lengthAdjust="spacingAndGlyphs" fill="#000">10 Août</text>
<line x1="772.5" y1="601" x2="772.5" y2="603" stroke="#c8c8c8"/>
<line x1="783.5" y1="601" x2="783.5" y2="603" stroke="#c8c8c8"/>
<line x1="794.5" y1="601" x2="794.5" y2="603" stroke="#c8c8c8"/>
<line x1="805.5" y1="601" x2="805.5" y2="603" stroke="#c8c8c8"/>
<line x1="816.5" y1="598" x2="816.5" y2="603" stroke="#000"/>
<text x="793.38" y="614.20" font-size="11.5" textLength="42.45" lengthAdjust="spacingAndGlyphs" fill="#000">17 Août</text>
<line x1="827.5" y1="601" x2="827.5" y2="603" stroke="#c8c8c8"/>
<line x1="838.5" y1="601" x2="838.5" y2="603" stroke="#c8c8c8"/>
<line x1="849.5" y1="601" x2="849.5" y2="603" stroke="#c8c8c8"/>
<line x1="860.5" y1="601" x2="860.5" y2="603" stroke="#c8c8c8"/>
<line x1="871.5" y1="598" x2="871.5" y2="603" stroke="#000"/>
<text x="848.50" y="614.20" font-size="11.5" textLength="42.52" lengthAdjust="spacingAndGlyphs" fill="#000">24 Août</text>
<line x1="882.5" y1="601" x2="882.5" y2="603" stroke="#c8c8c8"/>
<line x1="892.5" y1="601" x2="892.5" y2="603" stroke="#c8c8c8"/>
<line x1="903.5" y1="601" x2="903.5" y2="603" stroke="#c8c8c8"/>
<line x1="914.5" y1="601" x2="914.5" y2="603" stroke="#c8c8c8"/>
<line x1="925.5" y1="598" x2="925.5" y2="603" stroke="#000"/>
<text x="902.64" y="614.20" font-size="11.5" textLength="42.36" lengthAdjust="spacingAndGlyphs" fill="#000">31 Août</text>
<line x1="936.5" y1="601" x2="936.5" y2="603" stroke="#c8c8c8"/>
<line x1="947.5" y1="601" x2="947.5" y2="603" stroke="#c8c8c8"/>
<line x1="958.5" y1="601" x2="958.5" y2="603" stroke="#c8c8c8"/>
<line x1="969.5" y1="601" x2="969.5" y2="603" stroke="#c8c8c8"/>
<line x1="980.5" y1="598" x2="980.5" y2="603" stroke="#000"/>
<text x="961.17" y="613.00" font-size="11.5" textLength="35.14" lengthAdjust="spacingAndGlyphs" fill="#000">7 Sept</text>
<line x1="991.5" y1="601" x2="991.5" y2="603" stroke="#c8c8c8"/>
<line x1="1002.5" y1="601" x2="1002.5" y2="603" stroke="#c8c8c8"/>
<line x1="1013.5" y1="601" x2="1013.5" y2="603" stroke="#c8c8c8"/>
<line x1="1024.5" y1="601" x2="1024.5" y2="603" stroke="#c8c8c8"/>
<line x1="1035.5" y1="598" x2="1035.5" y2="603" stroke="#000"/>
<text x="1012.55" y="613.00" font-size="11.5" textLength="42.10" lengthAdjust="spacingAndGlyphs" fill="#000">14 Sept</text>
<line x1="1046.5" y1="601" x2="1046.5" y2="603" stroke="#c8c8c8"/>
<line x1="1057.5" y1="601" x2="1057.5" y2="603" stroke="#c8c8c8"/>
<line x1="1067.5" y1="601" x2="1067.5" y2="603" stroke="#c8c8c8"/>
<line x1="1078.5" y1="601" x2="1078.5" y2="603" stroke="#c8c8c8"/>
<line x1="1089.5" y1="598" x2="1089.5" y2="603" stroke="#000"/>
<text x="1066.66" y="613.00" font-size="11.5" textLength="42.19" lengthAdjust="spacingAndGlyphs" fill="#000">21 Sept</text>
<line x1="1100.5" y1="601" x2="1100.5" y2="603" stroke="#c8c8c8"/>
<line x1="1111.5" y1="601" x2="1111.5" y2="603" stroke="#c8c8c8"/>
<line x1="1122.5" y1="601" x2="1122.5" y2="603" stroke="#c8c8c8"/>
<line x1="1133.5" y1="601" x2="1133.5" y2="603" stroke="#c8c8c8"/>
<line x1="1144.5" y1="598" x2="1144.5" y2="603" stroke="#000"/>
<text x="1121.66" y="613.00" font-size="11.5" textLength="42.19" lengthAdjust="spacingAndGlyphs" fill="#000">28 Sept</text>
<text x="498.49" y="627.00" font-size="11.5" textLength="249.24" lengthAdjust="spacingAndGlyphs" fill="#000">Date (du 18 Mai 2018 au 28 Septembre 2018)</text>
<text x="-366.57" y="58.10" font-size="11.5" textLength="68.27" lengthAdjust="spacingAndGlyphs" transform="rotate(-90)">Cours (Euro)</text>
<text x="109.67" y="34.00" font-size="25" textLength="575.83" lengthAdjust="spacingAndGlyphs" fill="#000">Nexans: graphique du cours - AnalyBourse.com</text>
<rect x="550" y="50" width="6" height="6" fill="#d06868"/>
<text x="559.28" y="55.50" font-size="11.5" textLength="52.07" lengthAdjust="spacingAndGlyphs" fill="#000">Support 1</text>
<rect x="620" y="50" width="6" height="6" fill="#b06c6c"/>
<text x="629.07" y="55.50" font-size="11.5" textLength="52.73" lengthAdjust="spacingAndGlyphs" fill="#000">Support 2</text>
<rect x="690" y="50" width="6" height="6" fill="#66d466"/>
<text x="698.44" y="57.00" font-size="11.5" textLength="67.09" lengthAdjust="spacingAndGlyphs" fill="#000">Résistance 1</text>
<rect x="774" y="50" width="6" height="6" fill="#62a862"/>
<text x="782.80" y="57.00" font-size="11.5" textLength="66.48" lengthAdjust="spacingAndGlyphs" fill="#000">Résistance 2</text>
<rect x="858" y="50" width="6" height="6" fill="#6666ff"/>
<text x="866.58" y="56.20" font-size="11.5" textLength="30.85" lengthAdjust="spacingAndGlyphs" fill="#000">MM20</text>
<rect x="906" y="50" width="6" height="6" fill="#a066ff"/>
<text x="914.47" y="56.20" font-size="11.5" textLength="31.17" lengthAdjust="spacingAndGlyphs" fill="#000">MM50</text>
<rect x="954" y="50" width="6" height="6" fill="#ff66ff"/>
<text x="962.82" y="56.20" font-size="11.5" textLength="37.41" lengthAdjust="spacingAndGlyphs" fill="#000">MM100</text>
<rect x="102" y="812" width="1049" height="44" fill="#f8f8f8"/>
<rect x="102" y="725" width="1049" height="43" fill="#f8f8f8"/>
<line x1="105.5" y1="725" x2="105.5" y2="900" stroke="#dcdcdc" stroke-dasharray="4 4" stroke-dashoffset="1"/>
<line x1="116.5" y1="725" x2="116.5" y2="900" stroke="#f0f0f0" stroke-dasharray="6 6" stroke-dashoffset="1"/>
<line x1="127.5" y1="725" x2="127.5" y2="900" stroke="#f0f0f0" stroke-dasharray="6 6" stroke-dashoffset="1"/>
<line x1="138.5" y1="725" x2="138.5" y2="900" stroke="#f0f0f0" stroke-dasharray="6 6" stroke-dashoffset="1"/>
<line x1="149.5" y1="725" x2="149.5" y2="900" stroke="#f0f0f0" stroke-dasharray="6 6" stroke-dashoffset="1"/>
<line x1="160.5" y1="725" x2="160.5" y2="900" stroke="#dcdcdc" stroke-dasharray="4 4" stroke-dashoffset="1"/>
<line x1="171.5" y1="725" x2="171.5" y2="900" stroke="#f0f0f0" stroke-dasharray="6 6" stroke-dashoffset="1"/>
<line x1="182.5" y1="725" x2="182.5" y2="900" stroke="#f0f0f0" stroke-dasharray="6 6" stroke-dashoffset="1"/>
<line x1="192.5" y1="725" x2="192.5" y2="900" stroke="#f0f0f0" stroke-dasharray="6 6" stroke-dashoffset="1"/>
<line x1="203.5" y1="725" x2="203.5" y2="900" stroke="#f0f0f0" stroke-dasharray="6 6" stroke-dashoffset="1"/>
<line x1="214.5" y1="725" x2="214.5" y2="900" stroke="#dcdcdc" stroke-dasharray="4 4" stroke-dashoffset="1"/>
<line x1="225.5" y1="725" x2="225.5" y2="900" stroke="#f0f0f0" stroke-dasharray="6 6" stroke-dashoffset="1"/>
<line x1="236.5" y1="725" x2="236.5" y2="900" stroke="#f0f0f0" stroke-dasharray="6 6" stroke-dashoffset="1"/>
<line x1="247.5" y1="725" x2="247.5" y2="900" stroke="#f0f0f0" stroke-dasharray="6 6" stroke-dashoffset="1"/>
<line x1="258.5" y1="725" x2="258.5" y2="900" stroke="#f0f0f0" stroke-dasharray="6 6" stroke-dashoffset="1"/>
<line x1="269.5" y1="725" x2="269.5" y2="900" stroke="#dcdcdc" stroke-dasharray="4 4" stroke-dashoffset="1"/>
<line x1="280.5" y1="725" x2="280.5" y2="900" stroke="#f0f0f0" stroke-dasharray="6 6" stroke-dashoffset="1"/>
<line x1="291.5" y1="725" x2="291.5" y2="900" stroke="#f0f0f0" stroke-dasharray="6 6" stroke-dashoffset="1"/>
<line x1="302.5" y1="725" x2="302.5" y2="900" stroke="#f0f0f0" stroke-dasharray="6 6" stroke-dashoffset="1"/>
<line x1="313.5" y1="725" x2="313.5" y2="900" stroke="#f0f0f0" stroke-dasharray="6 6" stroke-dashoffset="1"/>
<line x1="324.5" y1="725" x2="324.5" y2="900" stroke="#dcdcdc" stroke-dasharray="4 4" stroke-dashoffset="1"/>
<line x1="335.5" y1="725" x2="335.5" y2="900" stroke="#f0f0f0" stroke-dasharray="6 6" stroke-dashoffset="1"/>
<line x1="346.5" y1="725" x2="346.5" y2="900" stroke="#f0f0f0" stroke-dasharray="6 6" stroke-dashoffset="1"/>
<line x1="357.5" y1="725" x2="357.5" y2="900" stroke="#f0f0f0" stroke-dasharray="6 6" stroke-dashoffset="1"/>
<line x1="367.5" y1="725" x2="367.5" y2="900" stroke="#f0f0f0" stroke-dasharray="6 6" stroke-dashoffset="1"/>
<line x1="378.5" y1="725" x2="378.5" y2="900" stroke="#dcdcdc" stroke-dasharray="4 4" stroke-dashoffset="1"/>
<line x1="389.5" y1="725" x2="389.5" y2="900" stroke="#f0f0f0" stroke-dasharray="6 6" stroke-dashoffset="1"/>
<line x1="400.5" y1="725" x2="400.5" y2="900" stroke="#f0f0f0" stroke-dasharray="6 6" stroke-dashoffset="1"/>
<line x1="411.5" y1="725" x2="411.5" y2="900" stroke="#f0f0f0" stroke-dasharray="6 6" stroke-dashoffset="1"/>
<line x1="422.5" y1="725" x2="422.5" y2="900" stroke="#f0f0f0" stroke-dasharray="6 6" stroke-dashoffset="1"/>
<line x1="433.5" y1="725" x2="433.5" y2="900" stroke="#dcdcdc" stroke-dasharray="4 4" stroke-dashoffset="1"/>
<line x1="444.5" y1="725" x2="444.5" y2="900" stroke="#f0f0f0" stroke-dasharray="6 6" stroke-dashoffset="1"/>
<line x1="455.5" y1="725" x2="455.5" y2="900" stroke="#f0f0f0" stroke-dasharray="6 6" stroke-dashoffset="1"/>
<line x1="466.5" y1="725" x2="466.5" y2="900" stroke="#f0f0f0" stroke-dasharray="6 6" stroke-dashoffset="1"/>
<line x1="477.5" y1="725" x2="477.5" y2="900" stroke="#f0f0f0" stroke-dasharray="6 6" stroke-dashoffset="1"/>
<line x1="488.5" y1="725" x2="488.5" y2="900" stroke="#dcdcdc" stroke-dasharray="4 4" stroke-dashoffset="1"/>
<line x1="499.5" y1="725" x2="499.5" y2="900" stroke="#f0f0f0" stroke-dasharray="6 6" stroke-dashoffset="1"/>
<line x1="510.5" y1="725" x2="510.5" y2="900" stroke="#f0f0f0" stroke-dasharray="6 6" stroke-dashoffset="1"/>
<line x1="521.5" y1="725" x2="521.5" y2="900" stroke="#f0f0f0" stroke-dasharray="6 6" stroke-dashoffset="1"/>
<line x1="532.5" y1="725" x2="532.5" y2="900" stroke="#f0f0f0" stroke-dasharray="6 6" stroke-dashoffset="1"/>
<line x1="542.5" y1="725" x2="542.5" y2="900" stroke="#dcdcdc" stroke-dasharray="4 4" stroke-dashoffset="1"/>
<line x1="553.5" y1="725" x2="553.5" y2="900" stroke="#f0f0f0" stroke-dasharray="6 6" stroke-dashoffset="1"/>
<line x1="564.5" y1="725" x2="564.5" y2="900" stroke="#f0f0f0" stroke-dasharray="6 6" stroke-dashoffset="1"/>
<line x1="575.5" y1="725" x2="575.5" y2="900" stroke="#f0f0f0" stroke-dasharray="6 6" stroke-dashoffset="1"/>
<line x1="586.5" y1="725" x2="586.5" y2="900" stroke="#f0f0f0" stroke-dasharray="6 6" stroke-dashoffset="1"/>
<line x1="597.5" y1="725" x2="597.5" y2="900" stroke="#dcdcdc" stroke-dasharray="4 4" stroke-dashoffset="1"/>
<line x1="608.5" y1="725" x2="608.5" y2="900" stroke="#f0f0f0" stroke-dasharray="6 6" stroke-dashoffset="1"/>
<line x1="619.5" y1="725" x2="619.5" y2="900" stroke="#f0f0f0" stroke-dasharray="6 6" stroke-dashoffset="1"/>
<line x1="630.5" y1="725" x2="630.5" y2="900" stroke="#f0f0f0" stroke-dasharray="6 6" stroke-dashoffset="1"/>
<line x1="641.5" y1="725" x2="641.5" y2="900" stroke="#f0f0f0" stroke-dasharray="6 6" stroke-dashoffset="1"/>
<line x1="652.5" y1="725" x2="652.5" y2="900" stroke="#dcdcdc" stroke-dasharray="4 4" stroke-dashoffset="1"/>
<line x1="663.5" y1="725" x2="663.5" y2="900" stroke="#f0f0f0" stroke-dasharray="6 6" stroke-dashoffset="1"/>
<line x1="674.5" y1="725" x2="674.5" y2="900" stroke="#f0f0f0" stroke-dasharray="6 6" stroke-dashoffset="1"/>
<line x1="685.5" y1="725" x2="685.5" y2="900" stroke="#f0f0f0" stroke-dasharray="6 6" stroke-dashoffset="1"/>
<line x1="696.5" y1="725" x2="696.5" y2="900" stroke="#f0f0f0" stroke-dasharray="6 6" stroke-dashoffset="1"/>
<line x1="707.5" y1="725" x2="707.5" y2="900" stroke="#dcdcdc" stroke-dasharray="4 4" stroke-dashoffset="1"/>
<line x1="717.5" y1="725" x2="717.5" y2="900" stroke="#f0f0f0" stroke-dasharray="6 6" stroke-dashoffset="1"/>
<line x1="728.5" y1="725" x2="728.5" y2="900" stroke="#f0f0f0" stroke-dasharray="6 6" stroke-dashoffset="1"/>
<line x1="739.5" y1="725" x2="739.5" y2="900" stroke="#f0f0f0" stroke-dasharray="6 6" stroke-dashoffset="1"/>
<line x1="750.5" y1="725" x2="750.5" y2="900" stroke="#f0f0f0" stroke-dasharray="6 6" stroke-dashoffset="1"/>
<line x1="761.5" y1="725" x2="761.5" y2="900" stroke="#dcdcdc" stroke-dasharray="4 4" stroke-dashoffset="1"/>
<line x1="772.5" y1="725" x2="772.5" y2="900" stroke="#f0f0f0" stroke-dasharray="6 6" stroke-dashoffset="1"/>
<line x1="783.5" y1="725" x2="783.5" y2="900" stroke="#f0f0f0" stroke-dasharray="6 6" stroke-dashoffset="1"/>
<line x1="794.5" y1="725" x2="794.5" y2="900" stroke="#f0f0f0" stroke-dasharray="6 6" stroke-dashoffset="1"/>
<line x1="805.5" y1="725" x2="805.5" y2="900" stroke="#f0f0f0" stroke-dasharray="6 6" stroke-dashoffset="1"/>
<line x1="816.5" y1="725" x2="816.5" y2="900" stroke="#dcdcdc" stroke-dasharray="4 4" stroke-dashoffset="1"/>
<line x1="827.5" y1="725" x2="827.5" y2="900" stroke="#f0f0f0" stroke-dasharray="6 6" stroke-dashoffset="1"/>
<line x1="838.5" y1="725" x2="838.5" y2="900" stroke="#f0f0f0" stroke-dasharray="6 6" stroke-dashoffset="1"/>
<line x1="849.5" y1="725" x2="849.5" y2="900" stroke="#f0f0f0" stroke-dasharray="6 6" stroke-dashoffset="1"/>
<line x1="860.5" y1="725" x2="860.5" y2="900" stroke="#f0f0f0" stroke-dasharray="6 6" stroke-dashoffset="1"/>
<line x1="871.5" y1="725" x2="871.5" y2="900" stroke="#dcdcdc" stroke-dasharray="4 4" stroke-dashoffset="1"/>
<line x1="882.5" y1="725" x2="882.5" y2="900" stroke="#f0f0f0" stroke-dasharray="6 6" stroke-dashoffset="1"/>
<line x1="892.5" y1="725" x2="892.5" y2="900" stroke="#f0f0f0" stroke-dasharray="6 6" stroke-dashoffset="1"/>
<line x1="903.5" y1="725" x2="903.5" y2="900" stroke="#f0f0f0" stroke-dasharray="6 6" stroke-dashoffset="1"/>
<line x1="914.5" y1="725" x2="914.5" y2="900" stroke="#f0f0f0" stroke-dasharray="6 6" stroke-dashoffset="1"/>
<line x1="925.5" y1="725" x2="925.5" y2="900" stroke="#dcdcdc" stroke-dasharray="4 4" stroke-dashoffset="1"/>
<line x1="936.5" y1="725" x2="936.5" y2="900" stroke="#f0f0f0" stroke-dasharray="6 6" stroke-dashoffset="1"/>
<line x1="947.5" y1="725" x2="947.5" y2="900" stroke="#f0f0f0" stroke-dasharray="6 6" stroke-dashoffset="1"/>
<line x1="958.5" y1="725" x2="958.5" y2="900" stroke="#f0f0f0" stroke-dasharray="6 6" stroke-dashoffset="1"/>
<line x1="969.5" y1="725" x2="969.5" y2="900" stroke="#f0f0f0" stroke-dasharray="6 6" stroke-dashoffset="1"/>
<line x1="980.5" y1="725" x2="980.5" y2="900" stroke="#dcdcdc" stroke-dasharray="4 4" stroke-dashoffset="1"/>
<line x1="991.5" y1="725" x2="991.5" y2="900" stroke="#f0f0f0" stroke-dasharray="6 6" stroke-dashoffset="1"/>
<line x1="1002.5" y1="725" x2="1002.5" y2="900" stroke="#f0f0f0" stroke-dasharray="6 6" stroke-dashoffset="1"/>
<line x1="1013.5" y1="725" x2="1013.5" y2="900" stroke="#f0f0f0" stroke-dasharray="6 6" stroke-dashoffset="1"/>
<line x1="1024.5" y1="725" x2="1024.5" y2="900" stroke="#f0f0f0" stroke-dasharray="6 6" stroke-dashoffset="1"/>
<line x1="1035.5" y1="725" x2="1035.5" y2="900" stroke="#dcdcdc" stroke-dasharray="4 4" stroke-dashoffset="1"/>
<line x1="1046.5" y1="725" x2="1046.5" y2="900" stroke="#f0f0f0" stroke-dasharray="6 6" stroke-dashoffset="1"/>
<line x1="1057.5" y1="725" x2="1057.5" y2="900" stroke="#f0f0f0" stroke-dasharray="6 6" stroke-dashoffset="1"/>
<line x1="1067.5" y1="725" x2="1067.5" y2="900" stroke="#f0f0f0" stroke-dasharray="6 6" stroke-dashoffset="1"/>
<line x1="1078.5" y1="725" x2="1078.5" y2="900" stroke="#f0f0f0" stroke-dasharray="6 6" stroke-dashoffset="1"/>
<line x1="1089.5" y1="725" x2="1089.5" y2="900" stroke="#dcdcdc" stroke-dasharray="4 4" stroke-dashoffset="1"/>
<line x1="1100.5" y1="725" x2="1100.5" y2="900" stroke="#f0f0f0" stroke-dasharray="6 6" stroke-dashoffset="1"/>
<line x1="1111.5" y1="725" x2="1111.5" y2="900" stroke="#f0f0f0" stroke-dasharray="6 6" stroke-dashoffset="1"/>
<line x1="1122.5" y1="725" x2="1122.5" y2="900" stroke="#f0f0f0" stroke-dasharray="6 6" stroke-dashoffset="1"/>
<line x1="1133.5" y1="725" x2="1133.5" y2="900" stroke="#f0f0f0" stroke-dasharray="6 6" stroke-dashoffset="1"/>
<line x1="1144.5" y1="725" x2="1144.5" y2="900" stroke="#dcdcdc" stroke-dasharray="4 4" stroke-dashoffset="1"/>
<line x1="107" y1="725.5" x2="1151" y2="725.5" stroke="#e0e0e0" stroke-dasharray="4 4"/>
<line x1="107" y1="768.5" x2="1151" y2="768.5" stroke="#e0e0e0" stroke-dasharray="4 4"/>
<line x1="107" y1="812.5" x2="1151" y2="812.5" stroke="#e0e0e0" stroke-dasharray="4 4"/>
<line x1="107" y1="856.5" x2="1151" y2="856.5" stroke="#e0e0e0" stroke-dasharray="4 4"/>
<rect x="101.27" y="884.00" width="8.4" height="16.00" fill="#ff0000" fill-opacity="0.63"/>
<rect x="112.21" y="887.00" width="8.4" height="13.00" fill="#00ff00" fill-opacity="0.63"/>
<rect x="123.14" y="882.00" width="8.4" height="18.00" fill="#00ff00" fill-opacity="0.63"/>
<rect x="134.08" y="877.00" width="8.4" height="23.00" fill="#00ff00" fill-opacity="0.63"/>
<rect x="145.02" y="889.00" width="8.4" height="11.00" fill="#00ff00" fill-opacity="0.63"/>
<rect x="155.96" y="887.00" width="8.4" height="13.00" fill="#00ff00" fill-opacity="0.63"/>
<rect x="166.89" y="891.00" width="8.4" height="9.00" fill="#ff0000" fill-opacity="0.63"/>
<rect x="177.83" y="882.00" width="8.4" height="18.00" fill="#ff0000" fill-opacity="0.63"/>
<rect x="188.77" y="888.00" width="8.4" height="12.00" fill="#00ff00" fill-opacity="0.63"/>
<rect x="199.71" y="878.00" width="8.4" height="22.00" fill="#ff0000" fill-opacity="0.63"/>
<rect x="210.64" y="881.00" width="8.4" height="19.00" fill="#00ff00" fill-opacity="0.63"/>
<rect x="221.58" y="879.00" width="8.4" height="21.00" fill="#00ff00" fill-opacity="0.63"/>
<rect x="232.52" y="888.00" width="8.4" height="12.00" fill="#ff0000" fill-opacity="0.63"/>
<rect x="243.46" y="885.00" width="8.4" height="15.00" fill="#00ff00" fill-opacity="0.63"/>
<rect x="254.39" y="881.00" width="8.4" height="19.00" fill="#ff0000" fill-opacity="0.63"/>
<rect x="265.33" y="886.00" width="8.4" height="14.00" fill="#ff0000" fill-opacity="0.63"/>
<rect x="276.27" y="881.00" width="8.4" height="19.00" fill="#ff0000" fill-opacity="0.63"/>
<rect x="287.21" y="887.00" width="8.4" height="13.00" fill="#ff0000" fill-opacity="0.63"/>
<rect x="298.14" y="888.00" width="8.4" height="12.00" fill="#00ff00" fill-opacity="0.63"/>
<rect x="309.08" y="875.00" width="8.4" height="25.00" fill="#00ff00" fill-opacity="0.63"/>
<rect x="320.02" y="879.00" width="8.4" height="21.00" fill="#ff0000" fill-opacity="0.63"/>
<rect x="330.96" y="742.00" width="8.4" height="158.00" fill="#00ff00" fill-opacity="0.63"/>
<rect x="341.89" y="832.00" width="8.4" height="68.00" fill="#ff0000" fill-opacity="0.63"/>
<rect x="352.83" y="801.00" width="8.4" height="99.00" fill="#00ff00" fill-opacity="0.63"/>
<rect x="363.77" y="854.00" width="8.4" height="46.00" fill="#ff0000" fill-opacity="0.63"/>
<rect x="374.71" y="861.00" width="8.4" height="39.00" fill="#ff0000" fill-opacity="0.63"/>
<rect x="385.64" y="871.00" width="8.4" height="29.00" fill="#ff0000" fill-opacity="0.63"/>
<rect x="396.58" y="875.00" width="8.4" height="25.00" fill="#ff0000" fill-opacity="0.63"/>
<rect x="407.52" y="868.00" width="8.4" height="32.00" fill="#00ff00" fill-opacity="0.63"/>
<rect x="418.46" y="873.00" width="8.4" height="27.00" fill="#ff0000" fill-opacity="0.63"/>
<rect x="429.39" y="867.00" width="8.4" height="33.00" fill="#ff0000" fill-opacity="0.63"/>
<rect x="440.33" y="868.00" width="8.4" height="32.00" fill="#ff0000" fill-opacity="0.63"/>
<rect x="451.27" y="871.00" width="8.4" height="29.00" fill="#00ff00" fill-opacity="0.63"/>
<rect x="462.21" y="875.00" width="8.4" height="25.00" fill="#ff0000" fill-opacity="0.63"/>
<rect x="473.14" y="877.00" width="8.4" height="23.00" fill="#00ff00" fill-opacity="0.63"/>
<rect x="484.08" y="877.00" width="8.4" height="23.00" fill="#ff0000" fill-opacity="0.63"/>
<rect x="495.02" y="885.00" width="8.4" height="15.00" fill="#00ff00" fill-opacity="0.63"/>
<rect x="505.96" y="887.00" width="8.4" height="13.00" fill="#00ff00" fill-opacity="0.63"/>
<rect x="516.89" y="884.00" width="8.4" height="16.00" fill="#ff0000" fill-opacity="0.63"/>
<rect x="527.83" y="878.00" width="8.4" height="22.00" fill="#ff0000" fill-opacity="0.63"/>
<rect x="538.77" y="881.00" width="8.4" height="19.00" fill="#ff0000" fill-opacity="0.63"/>
<rect x="549.71" y="888.00" width="8.4" height="12.00" fill="#00ff00" fill-opacity="0.63"/>
<rect x="560.64" y="885.00" width="8.4" height="15.00" fill="#ff0000" fill-opacity="0.63"/>
<rect x="571.58" y="880.00" width="8.4" height="20.00" fill="#ff0000" fill-opacity="0.63"/>
<rect x="582.52" y="880.00" width="8.4" height="20.00" fill="#ff0000" fill-opacity="0.63"/>
<rect x="593.46" y="885.00" width="8.4" height="15.00" fill="#ff0000" fill-opacity="0.63"/>
<rect x="604.39" y="878.00" width="8.4" height="22.00" fill="#ff0000" fill-opacity="0.63"/>
<rect x="615.33" y="874.00" width="8.4" height="26.00" fill="#00ff00" fill-opacity="0.63"/>
<rect x="626.27" y="884.00" width="8.4" height="16.00" fill="#ff0000" fill-opacity="0.63"/>
<rect x="637.21" y="868.00" width="8.4" height="32.00" fill="#00ff00" fill-opacity="0.63"/>
<rect x="648.14" y="848.00" width="8.4" height="52.00" fill="#ff0000" fill-opacity="0.63"/>
<rect x="659.08" y="846.00" width="8.4" height="54.00" fill="#00ff00" fill-opacity="0.63"/>
<rect x="670.02" y="880.00" width="8.4" height="20.00" fill="#00ff00" fill-opacity="0.63"/>
<rect x="680.96" y="887.00" width="8.4" height="13.00" fill="#ff0000" fill-opacity="0.63"/>
<rect x="691.89" y="874.00" width="8.4" height="26.00" fill="#00ff00" fill-opacity="0.63"/>
<rect x="702.83" y="883.00" width="8.4" height="17.00" fill="#00ff00" fill-opacity="0.63"/>
<rect x="713.77" y="885.00" width="8.4" height="15.00" fill="#ff0000" fill-opacity="0.63"/>
<rect x="724.71" y="881.00" width="8.4" height="19.00" fill="#00ff00" fill-opacity="0.63"/>
<rect x="735.64" y="883.00" width="8.4" height="17.00" fill="#ff0000" fill-opacity="0.63"/>
<rect x="746.58" y="886.00" width="8.4" height="14.00" fill="#ff0000" fill-opacity="0.63"/>
<rect x="757.52" y="880.00" width="8.4" height="20.00" fill="#00ff00" fill-opacity="0.63"/>
<rect x="768.46" y="885.00" width="8.4" height="15.00" fill="#ff0000" fill-opacity="0.63"/>
<rect x="779.39" y="890.00" width="8.4" height="10.00" fill="#ff0000" fill-opacity="0.63"/>
<rect x="790.33" y="887.00" width="8.4" height="13.00" fill="#ff0000" fill-opacity="0.63"/>
<rect x="801.27" y="890.00" width="8.4" height="10.00" fill="#ff0000" fill-opacity="0.63"/>
<rect x="812.21" y="889.00" width="8.4" height="11.00" fill="#ff0000" fill-opacity="0.63"/>
<rect x="823.14" y="888.00" width="8.4" height="12.00" fill="#00ff00" fill-opacity="0.63"/>
<rect x="834.08" y="882.00" width="8.4" height="18.00" fill="#00ff00" fill-opacity="0.63"/>
<rect x="845.02" y="887.00" width="8.4" height="13.00" fill="#00ff00" fill-opacity="0.63"/>
<rect x="855.96" y="882.00" width="8.4" height="18.00" fill="#ff0000" fill-opacity="0.63"/>
<rect x="866.89" y="882.00" width="8.4" height="18.00" fill="#ff0000" fill-opacity="0.63"/>
<rect x="877.83" y="888.00" width="8.4" height="12.00" fill="#ff0000" fill-opacity="0.63"/>
<rect x="888.77" y="884.00" width="8.4" height="16.00" fill="#ff0000" fill-opacity="0.63"/>
<rect x="899.71" y="887.00" width="8.4" height="13.00" fill="#ff0000" fill-opacity="0.63"/>
<rect x="910.64" y="889.00" width="8.4" height="11.00" fill="#ff0000" fill-opacity="0.63"/>
<rect x="921.58" y="886.00" width="8.4" height="14.00" fill="#ff0000" fill-opacity="0.63"/>
<rect x="932.52" y="888.00" width="8.4" height="12.00" fill="#00ff00" fill-opacity="0.63"/>
<rect x="943.46" y="883.00" width="8.4" height="17.00" fill="#ff0000" fill-opacity="0.63"/>
<rect x="954.39" y="879.00" width="8.4" height="21.00" fill="#ff0000" fill-opacity="0.63"/>
<rect x="965.33" y="875.00" width="8.4" height="25.00" fill="#ff0000" fill-opacity="0.63"/>
<rect x="976.27" y="874.00" width="8.4" height="26.00" fill="#ff0000" fill-opacity="0.63"/>
<rect x="987.21" y="888.00" width="8.4" height="12.00" fill="#00ff00" fill-opacity="0.63"/>
<rect x="998.14" y="889.00" width="8.4" height="11.00" fill="#ff0000" fill-opacity="0.63"/>
<rect x="1009.08" y="812.00" width="8.4" height="88.00" fill="#ff0000" fill-opacity="0.63"/>
<rect x="1020.02" y="862.00" width="8.4" height="38.00" fill="#00ff00" fill-opacity="0.63"/>
<rect x="1030.96" y="876.00" width="8.4" height="24.00" fill="#00ff00" fill-opacity="0.63"/>
<rect x="1041.89" y="881.00" width="8.4" height="19.00" fill="#00ff00" fill-opacity="0.63"/>
<rect x="1052.83" y="878.00" width="8.4" height="22.00" fill="#00ff00" fill-opacity="0.63"/>
<rect x="1063.77" y="879.00" width="8.4" height="21.00" fill="#00ff00" fill-opacity="0.63"/>
<rect x="1074.71" y="877.00" width="8.4" height="23.00" fill="#00ff00" fill-opacity="0.63"/>
<rect x="1085.64" y="881.00" width="8.4" height="19.00" fill="#ff0000" fill-opacity="0.63"/>
<rect x="1096.58" y="888.00" width="8.4" height="12.00" fill="#ff0000" fill-opacity="0.63"/>
<rect x="1107.52" y="881.00" width="8.4" height="19.00" fill="#ff0000" fill-opacity="0.63"/>
<rect x="1118.46" y="881.00" width="8.4" height="19.00" fill="#ff0000" fill-opacity="0.63"/>
<rect x="1129.39" y="887.00" width="8.4" height="13.00" fill="#00ff00" fill-opacity="0.63"/>
<rect x="1140.33" y="882.00" width="8.4" height="18.00" fill="#ff0000" fill-opacity="0.63"/>
<line x1="100.5" y1="720" x2="100.5" y2="900.5" stroke="#111"/>
<path d="M100 713 h1 v1 h1 v2 h1 v2 h1 v2 h-7 v-2 h1 v-2 h1 v-2 h1 z" fill="#000"/>
<line x1="98" y1="900.5" x2="1163" y2="900.5" stroke="#000"/>
<path d="M1155 897 h2 v1 h2 v1 h2 v3 h-2 v1 h-2 v1 h-2 z" fill="#000"/>
<line x1="98" y1="725.5" x2="103" y2="725.5" stroke="#000"/>
<text x="21.70" y="729.00" font-size="11.5" textLength="73.09" lengthAdjust="spacingAndGlyphs" fill="#000">2,000,000.00</text>
<line x1="98" y1="768.5" x2="103" y2="768.5" stroke="#000"/>
<text x="21.78" y="772.00" font-size="11.5" textLength="73.01" lengthAdjust="spacingAndGlyphs" fill="#000">1,500,000.00</text>
<line x1="98" y1="812.5" x2="103" y2="812.5" stroke="#000"/>
<text x="21.78" y="816.00" font-size="11.5" textLength="73.01" lengthAdjust="spacingAndGlyphs" fill="#000">1,000,000.00</text>
<line x1="98" y1="856.5" x2="103" y2="856.5" stroke="#000"/>
<text x="32.36" y="860.00" font-size="11.5" textLength="62.44" lengthAdjust="spacingAndGlyphs" fill="#000">500,000.00</text>
<line x1="98" y1="900.5" x2="103" y2="900.5" stroke="#000"/>
<text x="70.72" y="904.00" font-size="11.5" textLength="24.05" lengthAdjust="spacingAndGlyphs" fill="#000">0.00</text>
<line x1="98" y1="746.5" x2="100" y2="746.5" stroke="#f00"/>
<line x1="98" y1="790.5" x2="100" y2="790.5" stroke="#f00"/>
<line x1="98" y1="834.5" x2="100" y2="834.5" stroke="#f00"/>
<line x1="98" y1="878.5" x2="100" y2="878.5" stroke="#f00"/>
<line x1="105.5" y1="898" x2="105.5" y2="903" stroke="#000"/>
<text x="85.81" y="913.00" font-size="11.5" textLength="36.30" lengthAdjust="spacingAndGlyphs" fill="#000">18 Mai</text>
<line x1="116.5" y1="901" x2="116.5" y2="903" stroke="#c8c8c8"/>
<line x1="127.5" y1="901" x2="127.5" y2="903" stroke="#c8c8c8"/>
<line x1="138.5" y1="901" x2="138.5" y2="903" stroke="#c8c8c8"/>
<line x1="149.5" y1="901" x2="149.5" y2="903" stroke="#c8c8c8"/>
<line x1="160.5" y1="898" x2="160.5" y2="903" stroke="#000"/>
<text x="140.92" y="913.00" font-size="11.5" textLength="36.39" lengthAdjust="spacingAndGlyphs" fill="#000">25 Mai</text>
<line x1="171.5" y1="901" x2="171.5" y2="903" stroke="#c8c8c8"/>
<line x1="182.5" y1="901" x2="182.5" y2="903" stroke="#c8c8c8"/>
<line x1="192.5" y1="901" x2="192.5" y2="903" stroke="#c8c8c8"/>
<line x1="203.5" y1="901" x2="203.5" y2="903" stroke="#c8c8c8"/>
<line x1="214.5" y1="898" x2="214.5" y2="903" stroke="#000"/>
<text x="192.19" y="913.00" font-size="11.5" textLength="41.54" lengthAdjust="spacingAndGlyphs" fill="#000">1er Juin</text>
<line x1="225.5" y1="901" x2="225.5" y2="903" stroke="#c8c8c8"/>
<line x1="236.5" y1="901" x2="236.5" y2="903" stroke="#c8c8c8"/>
<line x1="247.5" y1="901" x2="247.5" y2="903" stroke="#c8c8c8"/>
<line x1="258.5" y1="901" x2="258.5" y2="903" stroke="#c8c8c8"/>
<line x1="269.5" y1="898" x2="269.5" y2="903" stroke="#000"/>
<text x="252.98" y="913.00" font-size="11.5" textLength="30.27" lengthAdjust="spacingAndGlyphs" fill="#000">8 Juin</text>
<line x1="280.5" y1="901" x2="280.5" y2="903" stroke="#c8c8c8"/>
<line x1="291.5" y1="901" x2="291.5" y2="903" stroke="#c8c8c8"/>
<line x1="302.5" y1="901" x2="302.5" y2="903" stroke="#c8c8c8"/>
<line x1="313.5" y1="901" x2="313.5" y2="903" stroke="#c8c8c8"/>
<line x1="324.5" y1="898" x2="324.5" y2="903" stroke="#000"/>
<text x="304.35" y="913.00" font-size="11.5" textLength="37.19" lengthAdjust="spacingAndGlyphs" fill="#000">15 Juin</text>
<line x1="335.5" y1="901" x2="335.5" y2="903" stroke="#c8c8c8"/>
<line x1="346.5" y1="901" x2="346.5" y2="903" stroke="#c8c8c8"/>
<line x1="357.5" y1="901" x2="357.5" y2="903" stroke="#c8c8c8"/>
<line x1="367.5" y1="901" x2="367.5" y2="903" stroke="#c8c8c8"/>
<line x1="378.5" y1="898" x2="378.5" y2="903" stroke="#000"/>
<text x="358.45" y="913.00" font-size="11.5" textLength="37.29" lengthAdjust="spacingAndGlyphs" fill="#000">22 Juin</text>
<line x1="389.5" y1="901" x2="389.5" y2="903" stroke="#c8c8c8"/>
<line x1="400.5" y1="901" x2="400.5" y2="903" stroke="#c8c8c8"/>
<line x1="411.5" y1="901" x2="411.5" y2="903" stroke="#c8c8c8"/>
<line x1="422.5" y1="901" x2="422.5" y2="903" stroke="#c8c8c8"/>
<line x1="433.5" y1="898" x2="433.5" y2="903" stroke="#000"/>
<text x="413.45" y="913.00" font-size="11.5" textLength="37.29" lengthAdjust="spacingAndGlyphs" fill="#000">29 Juin</text>
<line x1="444.5" y1="901" x2="444.5" y2="903" stroke="#c8c8c8"/>
<line x1="455.5" y1="901" x2="455.5" y2="903" stroke="#c8c8c8"/>
<line x1="466.5" y1="901" x2="466.5" y2="903" stroke="#c8c8c8"/>
<line x1="477.5" y1="901" x2="477.5" y2="903" stroke="#c8c8c8"/>
<line x1="488.5" y1="898" x2="488.5" y2="903" stroke="#000"/>
<text x="473.94" y="913.00" font-size="11.5" textLength="26.32" lengthAdjust="spacingAndGlyphs" fill="#000">6 Juil</text>
<line x1="499.5" y1="901" x2="499.5" y2="903" stroke="#c8c8c8"/>
<line x1="510.5" y1="901" x2="510.5" y2="903" stroke="#c8c8c8"/>
<line x1="521.5" y1="901" x2="521.5" y2="903" stroke="#c8c8c8"/>
<line x1="532.5" y1="901" x2="532.5" y2="903" stroke="#c8c8c8"/>
<line x1="542.5" y1="898" x2="542.5" y2="903" stroke="#000"/>
<text x="524.35" y="913.00" font-size="11.5" textLength="33.19" lengthAdjust="spacingAndGlyphs" fill="#000">13 Juil</text>
<line x1="553.5" y1="901" x2="553.5" y2="903" stroke="#c8c8c8"/>
<line x1="564.5" y1="901" x2="564.5" y2="903" stroke="#c8c8c8"/>
<line x1="575.5" y1="901" x2="575.5" y2="903" stroke="#c8c8c8"/>
<line x1="586.5" y1="901" x2="586.5" y2="903" stroke="#c8c8c8"/>
<line x1="597.5" y1="898" x2="597.5" y2="903" stroke="#000"/>
<text x="579.45" y="913.00" font-size="11.5" textLength="33.29" lengthAdjust="spacingAndGlyphs" fill="#000">20 Juil</text>
<line x1="608.5" y1="901" x2="608.5" y2="903" stroke="#c8c8c8"/>
<line x1="619.5" y1="901" x2="619.5" y2="903" stroke="#c8c8c8"/>
<line x1="630.5" y1="901" x2="630.5" y2="903" stroke="#c8c8c8"/>
<line x1="641.5" y1="901" x2="641.5" y2="903" stroke="#c8c8c8"/>
<line x1="652.5" y1="898" x2="652.5" y2="903" stroke="#000"/>
<text x="634.45" y="913.00" font-size="11.5" textLength="33.29" lengthAdjust="spacingAndGlyphs" fill="#000">27 Juil</text>
<line x1="663.5" y1="901" x2="663.5" y2="903" stroke="#c8c8c8"/>
<line x1="674.5" y1="901" x2="674.5" y2="903" stroke="#c8c8c8"/>
<line x1="685.5" y1="901" x2="685.5" y2="903" stroke="#c8c8c8"/>
<line x1="696.5" y1="901" x2="696.5" y2="903" stroke="#c8c8c8"/>
<line x1="707.5" y1="898" x2="707.5" y2="903" stroke="#000"/>
<text x="688.14" y="914.20" font-size="11.5" textLength="35.36" lengthAdjust="spacingAndGlyphs" fill="#000">3 Août</text>
<line x1="717.5" y1="901" x2="717.5" y2="903" stroke="#c8c8c8"/>
<line x1="728.5" y1="901" x2="728.5" y2="903" stroke="#c8c8c8"/>
<line x1="739.5" y1="901" x2="739.5" y2="903" stroke="#c8c8c8"/>
<line x1="750.5" y1="901" x2="750.5" y2="903" stroke="#c8c8c8"/>
<line x1="761.5" y1="898" x2="761.5" y2="903" stroke="#000"/>
<text x="738.38" y="914.20" font-size="11.5" textLength="42.45" lengthAdjust="spacingAndGlyphs" fill="#000">10 Août</text>
<line x1="772.5" y1="901" x2="772.5" y2="903" stroke="#c8c8c8"/>
<line x1="783.5" y1="901" x2="783.5" y2="903" stroke="#c8c8c8"/>
<line x1="794.5" y1="901" x2="794.5" y2="903" stroke="#c8c8c8"/>
<line x1="805.5" y1="901" x2="805.5" y2="903" stroke="#c8c8c8"/>
<line x1="816.5" y1="898" x2="816.5" y2="903" stroke="#000"/>
<text x="793.38" y="914.20" font-size="11.5" textLength="42.45" lengthAdjust="spacingAndGlyphs" fill="#000">17 Août</text>
<line x1="827.5" y1="901" x2="827.5" y2="903" stroke="#c8c8c8"/>
<line x1="838.5" y1="901" x2="838.5" y2="903" stroke="#c8c8c8"/>
<line x1="849.5" y1="901" x2="849.5" y2="903" stroke="#c8c8c8"/>
<line x1="860.5" y1="901" x2="860.5" y2="903" stroke="#c8c8c8"/>
<line x1="871.5" y1="898" x2="871.5" y2="903" stroke="#000"/>
<text x="848.50" y="914.20" font-size="11.5" textLength="42.52" lengthAdjust="spacingAndGlyphs" fill="#000">24 Août</text>
<line x1="882.5" y1="901" x2="882.5" y2="903" stroke="#c8c8c8"/>
<line x1="892.5" y1="901" x2="892.5" y2="903" stroke="#c8c8c8"/>
<line x1="903.5" y1="901" x2="903.5" y2="903" stroke="#c8c8c8"/>
<line x1="914.5" y1="901" x2="914.5" y2="903" stroke="#c8c8c8"/>
<line x1="925.5" y1="898" x2="925.5" y2="903" stroke="#000"/>
<text x="902.64" y="914.20" font-size="11.5" textLength="42.36" lengthAdjust="spacingAndGlyphs" fill="#000">31 Août</text>
<line x1="936.5" y1="901" x2="936.5" y2="903" stroke="#c8c8c8"/>
<line x1="947.5" y1="901" x2="947.5" y2="903" stroke="#c8c8c8"/>
<line x1="958.5" y1="901" x2="958.5" y2="903" stroke="#c8c8c8"/>
<line x1="969.5" y1="901" x2="969.5" y2="903" stroke="#c8c8c8"/>
<line x1="980.5" y1="898" x2="980.5" y2="903" stroke="#000"/>
<text x="961.17" y="913.00" font-size="11.5" textLength="35.14" lengthAdjust="spacingAndGlyphs" fill="#000">7 Sept</text>
<line x1="991.5" y1="901" x2="991.5" y2="903" stroke="#c8c8c8"/>
<line x1="1002.5" y1="901" x2="1002.5" y2="903" stroke="#c8c8c8"/>
<line x1="1013.5" y1="901" x2="1013.5" y2="903" stroke="#c8c8c8"/>
<line x1="1024.5" y1="901" x2="1024.5" y2="903" stroke="#c8c8c8"/>
<line x1="1035.5" y1="898" x2="1035.5" y2="903" stroke="#000"/>
<text x="1012.55" y="913.00" font-size="11.5" textLength="42.10" lengthAdjust="spacingAndGlyphs" fill="#000">14 Sept</text>
<line x1="1046.5" y1="901" x2="1046.5" y2="903" stroke="#c8c8c8"/>
<line x1="1057.5" y1="901" x2="1057.5" y2="903" stroke="#c8c8c8"/>
<line x1="1067.5" y1="901" x2="1067.5" y2="903" stroke="#c8c8c8"/>
<line x1="1078.5" y1="901" x2="1078.5" y2="903" stroke="#c8c8c8"/>
<line x1="1089.5" y1="898" x2="1089.5" y2="903" stroke="#000"/>
<text x="1066.66" y="913.00" font-size="11.5" textLength="42.19" lengthAdjust="spacingAndGlyphs" fill="#000">21 Sept</text>
<line x1="1100.5" y1="901" x2="1100.5" y2="903" stroke="#c8c8c8"/>
<line x1="1111.5" y1="901" x2="1111.5" y2="903" stroke="#c8c8c8"/>
<line x1="1122.5" y1="901" x2="1122.5" y2="903" stroke="#c8c8c8"/>
<line x1="1133.5" y1="901" x2="1133.5" y2="903" stroke="#c8c8c8"/>
<line x1="1144.5" y1="898" x2="1144.5" y2="903" stroke="#000"/>
<text x="1121.66" y="913.00" font-size="11.5" textLength="42.19" lengthAdjust="spacingAndGlyphs" fill="#000">28 Sept</text>
<text x="498.49" y="927.00" font-size="11.5" textLength="249.24" lengthAdjust="spacingAndGlyphs" fill="#000">Date (du 18 Mai 2018 au 28 Septembre 2018)</text>
<text x="-832.18" y="20.00" font-size="11.5" textLength="40.84" lengthAdjust="spacingAndGlyphs" transform="rotate(-90)">Volume</text>
<text x="109.66" y="694.00" font-size="25" textLength="599.40" lengthAdjust="spacingAndGlyphs" fill="#000">Nexans: graphique du volume - AnalyBourse.com</text>
<rect x="102" y="1130" width="1049" height="35" fill="#f8f8f8"/>
<rect x="102" y="1060" width="1049" height="35" fill="#f8f8f8"/>
<line x1="105.5" y1="1025" x2="105.5" y2="1200" stroke="#dcdcdc" stroke-dasharray="4 4" stroke-dashoffset="1"/>
<line x1="116.5" y1="1025" x2="116.5" y2="1200" stroke="#f0f0f0" stroke-dasharray="6 6" stroke-dashoffset="1"/>
<line x1="127.5" y1="1025" x2="127.5" y2="1200" stroke="#f0f0f0" stroke-dasharray="6 6" stroke-dashoffset="1"/>
<line x1="138.5" y1="1025" x2="138.5" y2="1200" stroke="#f0f0f0" stroke-dasharray="6 6" stroke-dashoffset="1"/>
<line x1="149.5" y1="1025" x2="149.5" y2="1200" stroke="#f0f0f0" stroke-dasharray="6 6" stroke-dashoffset="1"/>
<line x1="160.5" y1="1025" x2="160.5" y2="1200" stroke="#dcdcdc" stroke-dasharray="4 4" stroke-dashoffset="1"/>
<line x1="171.5" y1="1025" x2="171.5" y2="1200" stroke="#f0f0f0" stroke-dasharray="6 6" stroke-dashoffset="1"/>
<line x1="182.5" y1="1025" x2="182.5" y2="1200" stroke="#f0f0f0" stroke-dasharray="6 6" stroke-dashoffset="1"/>
<line x1="192.5" y1="1025" x2="192.5" y2="1200" stroke="#f0f0f0" stroke-dasharray="6 6" stroke-dashoffset="1"/>
<line x1="203.5" y1="1025" x2="203.5" y2="1200" stroke="#f0f0f0" stroke-dasharray="6 6" stroke-dashoffset="1"/>
<line x1="214.5" y1="1025" x2="214.5" y2="1200" stroke="#dcdcdc" stroke-dasharray="4 4" stroke-dashoffset="1"/>
<line x1="225.5" y1="1025" x2="225.5" y2="1200" stroke="#f0f0f0" stroke-dasharray="6 6" stroke-dashoffset="1"/>
<line x1="236.5" y1="1025" x2="236.5" y2="1200" stroke="#f0f0f0" stroke-dasharray="6 6" stroke-dashoffset="1"/>
<line x1="247.5" y1="1025" x2="247.5" y2="1200" stroke="#f0f0f0" stroke-dasharray="6 6" stroke-dashoffset="1"/>
<line x1="258.5" y1="1025" x2="258.5" y2="1200" stroke="#f0f0f0" stroke-dasharray="6 6" stroke-dashoffset="1"/>
<line x1="269.5" y1="1025" x2="269.5" y2="1200" stroke="#dcdcdc" stroke-dasharray="4 4" stroke-dashoffset="1"/>
<line x1="280.5" y1="1025" x2="280.5" y2="1200" stroke="#f0f0f0" stroke-dasharray="6 6" stroke-dashoffset="1"/>
<line x1="291.5" y1="1025" x2="291.5" y2="1200" stroke="#f0f0f0" stroke-dasharray="6 6" stroke-dashoffset="1"/>
<line x1="302.5" y1="1025" x2="302.5" y2="1200" stroke="#f0f0f0" stroke-dasharray="6 6" stroke-dashoffset="1"/>
<line x1="313.5" y1="1025" x2="313.5" y2="1200" stroke="#f0f0f0" stroke-dasharray="6 6" stroke-dashoffset="1"/>
<line x1="324.5" y1="1025" x2="324.5" y2="1200" stroke="#dcdcdc" stroke-dasharray="4 4" stroke-dashoffset="1"/>
<line x1="335.5" y1="1025" x2="335.5" y2="1200" stroke="#f0f0f0" stroke-dasharray="6 6" stroke-dashoffset="1"/>
<line x1="346.5" y1="1025" x2="346.5" y2="1200" stroke="#f0f0f0" stroke-dasharray="6 6" stroke-dashoffset="1"/>
<line x1="357.5" y1="1025" x2="357.5" y2="1200" stroke="#f0f0f0" stroke-dasharray="6 6" stroke-dashoffset="1"/>
<line x1="367.5" y1="1025" x2="367.5" y2="1200" stroke="#f0f0f0" stroke-dasharray="6 6" stroke-dashoffset="1"/>
<line x1="378.5" y1="1025" x2="378.5" y2="1200" stroke="#dcdcdc" stroke-dasharray="4 4" stroke-dashoffset="1"/>
<line x1="389.5" y1="1025" x2="389.5" y2="1200" stroke="#f0f0f0" stroke-dasharray="6 6" stroke-dashoffset="1"/>
<line x1="400.5" y1="1025" x2="400.5" y2="1200" stroke="#f0f0f0" stroke-dasharray="6 6" stroke-dashoffset="1"/>
<line x1="411.5" y1="1025" x2="411.5" y2="1200" stroke="#f0f0f0" stroke-dasharray="6 6" stroke-dashoffset="1"/>
<line x1="422.5" y1="1025" x2="422.5" y2="1200" stroke="#f0f0f0" stroke-dasharray="6 6" stroke-dashoffset="1"/>
<line x1="433.5" y1="1025" x2="433.5" y2="1200" stroke="#dcdcdc" stroke-dasharray="4 4" stroke-dashoffset="1"/>
<line x1="444.5" y1="1025" x2="444.5" y2="1200" stroke="#f0f0f0" stroke-dasharray="6 6" stroke-dashoffset="1"/>
<line x1="455.5" y1="1025" x2="455.5" y2="1200" stroke="#f0f0f0" stroke-dasharray="6 6" stroke-dashoffset="1"/>
<line x1="466.5" y1="1025" x2="466.5" y2="1200" stroke="#f0f0f0" stroke-dasharray="6 6" stroke-dashoffset="1"/>
<line x1="477.5" y1="1025" x2="477.5" y2="1200" stroke="#f0f0f0" stroke-dasharray="6 6" stroke-dashoffset="1"/>
<line x1="488.5" y1="1025" x2="488.5" y2="1200" stroke="#dcdcdc" stroke-dasharray="4 4" stroke-dashoffset="1"/>
<line x1="499.5" y1="1025" x2="499.5" y2="1200" stroke="#f0f0f0" stroke-dasharray="6 6" stroke-dashoffset="1"/>
<line x1="510.5" y1="1025" x2="510.5" y2="1200" stroke="#f0f0f0" stroke-dasharray="6 6" stroke-dashoffset="1"/>
<line x1="521.5" y1="1025" x2="521.5" y2="1200" stroke="#f0f0f0" stroke-dasharray="6 6" stroke-dashoffset="1"/>
<line x1="532.5" y1="1025" x2="532.5" y2="1200" stroke="#f0f0f0" stroke-dasharray="6 6" stroke-dashoffset="1"/>
<line x1="542.5" y1="1025" x2="542.5" y2="1200" stroke="#dcdcdc" stroke-dasharray="4 4" stroke-dashoffset="1"/>
<line x1="553.5" y1="1025" x2="553.5" y2="1200" stroke="#f0f0f0" stroke-dasharray="6 6" stroke-dashoffset="1"/>
<line x1="564.5" y1="1025" x2="564.5" y2="1200" stroke="#f0f0f0" stroke-dasharray="6 6" stroke-dashoffset="1"/>
<line x1="575.5" y1="1025" x2="575.5" y2="1200" stroke="#f0f0f0" stroke-dasharray="6 6" stroke-dashoffset="1"/>
<line x1="586.5" y1="1025" x2="586.5" y2="1200" stroke="#f0f0f0" stroke-dasharray="6 6" stroke-dashoffset="1"/>
<line x1="597.5" y1="1025" x2="597.5" y2="1200" stroke="#dcdcdc" stroke-dasharray="4 4" stroke-dashoffset="1"/>
<line x1="608.5" y1="1025" x2="608.5" y2="1200" stroke="#f0f0f0" stroke-dasharray="6 6" stroke-dashoffset="1"/>
<line x1="619.5" y1="1025" x2="619.5" y2="1200" stroke="#f0f0f0" stroke-dasharray="6 6" stroke-dashoffset="1"/>
<line x1="630.5" y1="1025" x2="630.5" y2="1200" stroke="#f0f0f0" stroke-dasharray="6 6" stroke-dashoffset="1"/>
<line x1="641.5" y1="1025" x2="641.5" y2="1200" stroke="#f0f0f0" stroke-dasharray="6 6" stroke-dashoffset="1"/>
<line x1="652.5" y1="1025" x2="652.5" y2="1200" stroke="#dcdcdc" stroke-dasharray="4 4" stroke-dashoffset="1"/>
<line x1="663.5" y1="1025" x2="663.5" y2="1200" stroke="#f0f0f0" stroke-dasharray="6 6" stroke-dashoffset="1"/>
<line x1="674.5" y1="1025" x2="674.5" y2="1200" stroke="#f0f0f0" stroke-dasharray="6 6" stroke-dashoffset="1"/>
<line x1="685.5" y1="1025" x2="685.5" y2="1200" stroke="#f0f0f0" stroke-dasharray="6 6" stroke-dashoffset="1"/>
<line x1="696.5" y1="1025" x2="696.5" y2="1200" stroke="#f0f0f0" stroke-dasharray="6 6" stroke-dashoffset="1"/>
<line x1="707.5" y1="1025" x2="707.5" y2="1200" stroke="#dcdcdc" stroke-dasharray="4 4" stroke-dashoffset="1"/>
<line x1="717.5" y1="1025" x2="717.5" y2="1200" stroke="#f0f0f0" stroke-dasharray="6 6" stroke-dashoffset="1"/>
<line x1="728.5" y1="1025" x2="728.5" y2="1200" stroke="#f0f0f0" stroke-dasharray="6 6" stroke-dashoffset="1"/>
<line x1="739.5" y1="1025" x2="739.5" y2="1200" stroke="#f0f0f0" stroke-dasharray="6 6" stroke-dashoffset="1"/>
<line x1="750.5" y1="1025" x2="750.5" y2="1200" stroke="#f0f0f0" stroke-dasharray="6 6" stroke-dashoffset="1"/>
<line x1="761.5" y1="1025" x2="761.5" y2="1200" stroke="#dcdcdc" stroke-dasharray="4 4" stroke-dashoffset="1"/>
<line x1="772.5" y1="1025" x2="772.5" y2="1200" stroke="#f0f0f0" stroke-dasharray="6 6" stroke-dashoffset="1"/>
<line x1="783.5" y1="1025" x2="783.5" y2="1200" stroke="#f0f0f0" stroke-dasharray="6 6" stroke-dashoffset="1"/>
<line x1="794.5" y1="1025" x2="794.5" y2="1200" stroke="#f0f0f0" stroke-dasharray="6 6" stroke-dashoffset="1"/>
<line x1="805.5" y1="1025" x2="805.5" y2="1200" stroke="#f0f0f0" stroke-dasharray="6 6" stroke-dashoffset="1"/>
<line x1="816.5" y1="1025" x2="816.5" y2="1200" stroke="#dcdcdc" stroke-dasharray="4 4" stroke-dashoffset="1"/>
<line x1="827.5" y1="1025" x2="827.5" y2="1200" stroke="#f0f0f0" stroke-dasharray="6 6" stroke-dashoffset="1"/>
<line x1="838.5" y1="1025" x2="838.5" y2="1200" stroke="#f0f0f0" stroke-dasharray="6 6" stroke-dashoffset="1"/>
<line x1="849.5" y1="1025" x2="849.5" y2="1200" stroke="#f0f0f0" stroke-dasharray="6 6" stroke-dashoffset="1"/>
<line x1="860.5" y1="1025" x2="860.5" y2="1200" stroke="#f0f0f0" stroke-dasharray="6 6" stroke-dashoffset="1"/>
<line x1="871.5" y1="1025" x2="871.5" y2="1200" stroke="#dcdcdc" stroke-dasharray="4 4" stroke-dashoffset="1"/>
<line x1="882.5" y1="1025" x2="882.5" y2="1200" stroke="#f0f0f0" stroke-dasharray="6 6" stroke-dashoffset="1"/>
<line x1="892.5" y1="1025" x2="892.5" y2="1200" stroke="#f0f0f0" stroke-dasharray="6 6" stroke-dashoffset="1"/>
<line x1="903.5" y1="1025" x2="903.5" y2="1200" stroke="#f0f0f0" stroke-dasharray="6 6" stroke-dashoffset="1"/>
<line x1="914.5" y1="1025" x2="914.5" y2="1200" stroke="#f0f0f0" stroke-dasharray="6 6" stroke-dashoffset="1"/>
<line x1="925.5" y1="1025" x2="925.5" y2="1200" stroke="#dcdcdc" stroke-dasharray="4 4" stroke-dashoffset="1"/>
<line x1="936.5" y1="1025" x2="936.5" y2="1200" stroke="#f0f0f0" stroke-dasharray="6 6" stroke-dashoffset="1"/>
<line x1="947.5" y1="1025" x2="947.5" y2="1200" stroke="#f0f0f0" stroke-dasharray="6 6" stroke-dashoffset="1"/>
<line x1="958.5" y1="1025" x2="958.5" y2="1200" stroke="#f0f0f0" stroke-dasharray="6 6" stroke-dashoffset="1"/>
<line x1="969.5" y1="1025" x2="969.5" y2="1200" stroke="#f0f0f0" stroke-dasharray="6 6" stroke-dashoffset="1"/>
<line x1="980.5" y1="1025" x2="980.5" y2="1200" stroke="#dcdcdc" stroke-dasharray="4 4" stroke-dashoffset="1"/>
<line x1="991.5" y1="1025" x2="991.5" y2="1200" stroke="#f0f0f0" stroke-dasharray="6 6" stroke-dashoffset="1"/>
<line x1="1002.5" y1="1025" x2="1002.5" y2="1200" stroke="#f0f0f0" stroke-dasharray="6 6" stroke-dashoffset="1"/>
<line x1="1013.5" y1="1025" x2="1013.5" y2="1200" stroke="#f0f0f0" stroke-dasharray="6 6" stroke-dashoffset="1"/>
<line x1="1024.5" y1="1025" x2="1024.5" y2="1200" stroke="#f0f0f0" stroke-dasharray="6 6" stroke-dashoffset="1"/>
<line x1="1035.5" y1="1025" x2="1035.5" y2="1200" stroke="#dcdcdc" stroke-dasharray="4 4" stroke-dashoffset="1"/>
<line x1="1046.5" y1="1025" x2="1046.5" y2="1200" stroke="#f0f0f0" stroke-dasharray="6 6" stroke-dashoffset="1"/>
<line x1="1057.5" y1="1025" x2="1057.5" y2="1200" stroke="#f0f0f0" stroke-dasharray="6 6" stroke-dashoffset="1"/>
<line x1="1067.5" y1="1025" x2="1067.5" y2="1200" stroke="#f0f0f0" stroke-dasharray="6 6" stroke-dashoffset="1"/>
<line x1="1078.5" y1="1025" x2="1078.5" y2="1200" stroke="#f0f0f0" stroke-dasharray="6 6" stroke-dashoffset="1"/>
<line x1="1089.5" y1="1025" x2="1089.5" y2="1200" stroke="#dcdcdc" stroke-dasharray="4 4" stroke-dashoffset="1"/>
<line x1="1100.5" y1="1025" x2="1100.5" y2="1200" stroke="#f0f0f0" stroke-dasharray="6 6" stroke-dashoffset="1"/>
<line x1="1111.5" y1="1025" x2="1111.5" y2="1200" stroke="#f0f0f0" stroke-dasharray="6 6" stroke-dashoffset="1"/>
<line x1="1122.5" y1="1025" x2="1122.5" y2="1200" stroke="#f0f0f0" stroke-dasharray="6 6" stroke-dashoffset="1"/>
<line x1="1133.5" y1="1025" x2="1133.5" y2="1200" stroke="#f0f0f0" stroke-dasharray="6 6" stroke-dashoffset="1"/>
<line x1="1144.5" y1="1025" x2="1144.5" y2="1200" stroke="#dcdcdc" stroke-dasharray="4 4" stroke-dashoffset="1"/>
<line x1="107" y1="1025.5" x2="1151" y2="1025.5" stroke="#e0e0e0" stroke-dasharray="4 4"/>
<line x1="107" y1="1060.5" x2="1151" y2="1060.5" stroke="#e0e0e0" stroke-dasharray="4 4"/>
<line x1="107" y1="1095.5" x2="1151" y2="1095.5" stroke="#e0e0e0" stroke-dasharray="4 4"/>
<line x1="107" y1="1130.5" x2="1151" y2="1130.5" stroke="#e0e0e0" stroke-dasharray="4 4"/>
<line x1="107" y1="1165.5" x2="1151" y2="1165.5" stroke="#e0e0e0" stroke-dasharray="4 4"/>
<line x1="105" y1="1112.5" x2="1145" y2="1112.5" stroke="#707070"/>
<path d="M105.47 1130.50 C106.56 1130.08 114.22 1126.55 116.41 1126.25 C118.59 1125.95 125.16 1127.17 127.34 1127.50 C129.53 1127.83 136.09 1129.12 138.28 1129.50 C140.47 1129.88 147.03 1131.45 149.22 1131.25 C151.41 1131.05 157.97 1127.50 160.16 1127.50 C162.34 1127.50 168.91 1129.55 171.09 1131.25 C173.28 1132.95 179.84 1143.67 182.03 1144.50 C184.22 1145.33 190.78 1139.90 192.97 1139.50 C195.16 1139.10 201.72 1141.65 203.91 1140.50 C206.09 1139.35 212.66 1129.62 214.84 1128.00 C217.03 1126.38 223.59 1124.00 225.78 1124.25 C227.97 1124.50 234.53 1129.67 236.72 1130.50 C238.91 1131.33 245.47 1131.67 247.66 1132.50 C249.84 1133.33 256.41 1137.38 258.59 1138.75 C260.78 1140.12 267.34 1145.42 269.53 1146.25 C271.72 1147.08 278.28 1146.92 280.47 1147.00 C282.66 1147.08 289.22 1147.08 291.41 1147.00 C293.59 1146.92 300.16 1146.70 302.34 1146.25 C304.53 1145.80 311.09 1142.58 313.28 1142.50 C315.47 1142.42 322.03 1142.38 324.22 1145.50 C326.41 1148.62 332.97 1170.67 335.16 1173.75 C337.34 1176.83 343.91 1177.25 346.09 1176.25 C348.28 1175.25 354.84 1164.83 357.03 1163.75 C359.22 1162.67 365.78 1165.33 367.97 1165.50 C370.16 1165.67 376.72 1165.42 378.91 1165.50 C381.09 1165.58 387.66 1166.25 389.84 1166.25 C392.03 1166.25 398.59 1166.00 400.78 1165.50 C402.97 1165.00 409.53 1161.47 411.72 1161.25 C413.91 1161.03 420.47 1163.00 422.66 1163.25 C424.84 1163.50 431.41 1163.28 433.59 1163.75 C435.78 1164.22 442.34 1169.42 444.53 1168.00 C446.72 1166.58 453.28 1151.50 455.47 1149.50 C457.66 1147.50 464.22 1148.70 466.41 1148.00 C468.59 1147.30 475.16 1142.75 477.34 1142.50 C479.53 1142.25 486.09 1145.70 488.28 1145.50 C490.47 1145.30 497.03 1141.50 499.22 1140.50 C501.41 1139.50 507.97 1135.35 510.16 1135.50 C512.34 1135.65 518.91 1141.17 521.09 1142.00 C523.28 1142.83 529.84 1143.75 532.03 1143.75 C534.22 1143.75 540.78 1142.50 542.97 1142.00 C545.16 1141.50 551.72 1139.00 553.91 1138.75 C556.09 1138.50 562.66 1139.42 564.84 1139.50 C567.03 1139.58 573.59 1139.08 575.78 1139.50 C577.97 1139.92 584.53 1143.08 586.72 1143.75 C588.91 1144.42 595.47 1145.58 597.66 1146.25 C599.84 1146.92 606.41 1151.67 608.59 1150.50 C610.78 1149.33 617.34 1136.17 619.53 1134.50 C621.72 1132.83 628.28 1133.83 630.47 1133.75 C632.66 1133.67 639.22 1131.67 641.41 1133.75 C643.59 1135.83 650.16 1154.50 652.34 1154.50 C654.53 1154.50 661.09 1136.15 663.28 1133.75 C665.47 1131.35 672.03 1130.42 674.22 1130.50 C676.41 1130.58 682.97 1134.25 685.16 1134.50 C687.34 1134.75 693.91 1133.20 696.09 1133.00 C698.28 1132.80 704.84 1132.35 707.03 1132.50 C709.22 1132.65 715.78 1136.12 717.97 1134.50 C720.16 1132.88 726.72 1117.90 728.91 1116.25 C731.09 1114.60 737.66 1117.92 739.84 1118.00 C742.03 1118.08 748.59 1117.05 750.78 1117.00 C752.97 1116.95 759.53 1116.65 761.72 1117.50 C763.91 1118.35 770.47 1124.45 772.66 1125.50 C774.84 1126.55 781.41 1126.85 783.59 1128.00 C785.78 1129.15 792.34 1135.92 794.53 1137.00 C796.72 1138.08 803.28 1138.45 805.47 1138.75 C807.66 1139.05 814.22 1140.58 816.41 1140.00 C818.59 1139.42 825.16 1135.25 827.34 1133.00 C829.53 1130.75 836.09 1119.85 838.28 1117.50 C840.47 1115.15 847.03 1110.00 849.22 1109.50 C851.41 1109.00 857.97 1111.83 860.16 1112.50 C862.34 1113.17 868.91 1116.05 871.09 1116.25 C873.28 1116.45 879.84 1113.92 882.03 1114.50 C884.22 1115.08 890.78 1120.70 892.97 1122.00 C895.16 1123.30 901.72 1126.75 903.91 1127.50 C906.09 1128.25 912.66 1128.88 914.84 1129.50 C917.03 1130.12 923.59 1133.20 925.78 1133.75 C927.97 1134.30 934.53 1134.08 936.72 1135.00 C938.91 1135.92 945.47 1141.75 947.66 1143.00 C949.84 1144.25 956.41 1146.45 958.59 1147.50 C960.78 1148.55 967.34 1152.43 969.53 1153.50 C971.72 1154.57 978.28 1159.02 980.47 1158.20 C982.66 1157.38 989.22 1146.59 991.41 1145.30 C993.59 1144.01 1000.16 1144.30 1002.34 1145.30 C1004.53 1146.30 1011.09 1156.20 1013.28 1155.30 C1015.47 1154.40 1022.03 1138.86 1024.22 1136.30 C1026.41 1133.74 1032.97 1130.96 1035.16 1129.70 C1037.34 1128.44 1043.91 1125.34 1046.09 1123.70 C1048.28 1122.06 1054.84 1114.54 1057.03 1113.30 C1059.22 1112.06 1065.78 1112.50 1067.97 1111.30 C1070.16 1110.10 1076.72 1102.48 1078.91 1101.30 C1081.09 1100.12 1087.66 1099.43 1089.84 1099.50 C1092.03 1099.57 1098.59 1100.28 1100.78 1102.00 C1102.97 1103.72 1109.53 1114.87 1111.72 1116.70 C1113.91 1118.53 1120.47 1121.14 1122.66 1120.30 C1124.84 1119.46 1131.41 1108.91 1133.59 1108.30 C1135.78 1107.69 1143.44 1113.61 1144.53 1114.20" fill="none" stroke="#ff4444"/>
<line x1="100.5" y1="1020" x2="100.5" y2="1200.5" stroke="#111"/>
<path d="M100 1013 h1 v1 h1 v2 h1 v2 h1 v2 h-7 v-2 h1 v-2 h1 v-2 h1 z" fill="#000"/>
<line x1="98" y1="1200.5" x2="1163" y2="1200.5" stroke="#000"/>
<path d="M1155 1197 h2 v1 h2 v1 h2 v3 h-2 v1 h-2 v1 h-2 z" fill="#000"/>
<line x1="98" y1="1025.5" x2="103" y2="1025.5" stroke="#000"/>
<text x="56.78" y="1029.00" font-size="11.5" textLength="37.98" lengthAdjust="spacingAndGlyphs" fill="#000">100.00</text>
<line x1="98" y1="1060.5" x2="103" y2="1060.5" stroke="#000"/>
<text x="63.71" y="1064.00" font-size="11.5" textLength="31.05" lengthAdjust="spacingAndGlyphs" fill="#000">80.00</text>
<line x1="98" y1="1095.5" x2="103" y2="1095.5" stroke="#000"/>
<text x="63.66" y="1099.00" font-size="11.5" textLength="31.11" lengthAdjust="spacingAndGlyphs" fill="#000">60.00</text>
<line x1="98" y1="1130.5" x2="103" y2="1130.5" stroke="#000"/>
<text x="63.78" y="1134.00" font-size="11.5" textLength="30.98" lengthAdjust="spacingAndGlyphs" fill="#000">40.00</text>
<line x1="98" y1="1165.5" x2="103" y2="1165.5" stroke="#000"/>
<text x="63.71" y="1169.00" font-size="11.5" textLength="31.06" lengthAdjust="spacingAndGlyphs" fill="#000">20.00</text>
<line x1="98" y1="1200.5" x2="103" y2="1200.5" stroke="#000"/>
<text x="70.72" y="1204.00" font-size="11.5" textLength="24.05" lengthAdjust="spacingAndGlyphs" fill="#000">0.00</text>
<line x1="98" y1="1042.5" x2="100" y2="1042.5" stroke="#f00"/>
<line x1="98" y1="1077.5" x2="100" y2="1077.5" stroke="#f00"/>
<line x1="98" y1="1112.5" x2="100" y2="1112.5" stroke="#f00"/>
<line x1="98" y1="1147.5" x2="100" y2="1147.5" stroke="#f00"/>
<line x1="98" y1="1182.5" x2="100" y2="1182.5" stroke="#f00"/>
<line x1="105.5" y1="1198" x2="105.5" y2="1203" stroke="#000"/>
<text x="85.81" y="1213.00" font-size="11.5" textLength="36.30" lengthAdjust="spacingAndGlyphs" fill="#000">18 Mai</text>
<line x1="116.5" y1="1201" x2="116.5" y2="1203" stroke="#c8c8c8"/>
<line x1="127.5" y1="1201" x2="127.5" y2="1203" stroke="#c8c8c8"/>
<line x1="138.5" y1="1201" x2="138.5" y2="1203" stroke="#c8c8c8"/>
<line x1="149.5" y1="1201" x2="149.5" y2="1203" stroke="#c8c8c8"/>
<line x1="160.5" y1="1198" x2="160.5" y2="1203" stroke="#000"/>
<text x="140.92" y="1213.00" font-size="11.5" textLength="36.39" lengthAdjust="spacingAndGlyphs" fill="#000">25 Mai</text>
<line x1="171.5" y1="1201" x2="171.5" y2="1203" stroke="#c8c8c8"/>
<line x1="182.5" y1="1201" x2="182.5" y2="1203" stroke="#c8c8c8"/>
<line x1="192.5" y1="1201" x2="192.5" y2="1203" stroke="#c8c8c8"/>
<line x1="203.5" y1="1201" x2="203.5" y2="1203" stroke="#c8c8c8"/>
<line x1="214.5" y1="1198" x2="214.5" y2="1203" stroke="#000"/>
<text x="192.19" y="1213.00" font-size="11.5" textLength="41.54" lengthAdjust="spacingAndGlyphs" fill="#000">1er Juin</text>
<line x1="225.5" y1="1201" x2="225.5" y2="1203" stroke="#c8c8c8"/>
<line x1="236.5" y1="1201" x2="236.5" y2="1203" stroke="#c8c8c8"/>
<line x1="247.5" y1="1201" x2="247.5" y2="1203" stroke="#c8c8c8"/>
<line x1="258.5" y1="1201" x2="258.5" y2="1203" stroke="#c8c8c8"/>
<line x1="269.5" y1="1198" x2="269.5" y2="1203" stroke="#000"/>
<text x="252.98" y="1213.00" font-size="11.5" textLength="30.27" lengthAdjust="spacingAndGlyphs" fill="#000">8 Juin</text>
<line x1="280.5" y1="1201" x2="280.5" y2="1203" stroke="#c8c8c8"/>
<line x1="291.5" y1="1201" x2="291.5" y2="1203" stroke="#c8c8c8"/>
<line x1="302.5" y1="1201" x2="302.5" y2="1203" stroke="#c8c8c8"/>
<line x1="313.5" y1="1201" x2="313.5" y2="1203" stroke="#c8c8c8"/>
<line x1="324.5" y1="1198" x2="324.5" y2="1203" stroke="#000"/>
<text x="304.35" y="1213.00" font-size="11.5" textLength="37.19" lengthAdjust="spacingAndGlyphs" fill="#000">15 Juin</text>
<line x1="335.5" y1="1201" x2="335.5" y2="1203" stroke="#c8c8c8"/>
<line x1="346.5" y1="1201" x2="346.5" y2="1203" stroke="#c8c8c8"/>
<line x1="357.5" y1="1201" x2="357.5" y2="1203" stroke="#c8c8c8"/>
<line x1="367.5" y1="1201" x2="367.5" y2="1203" stroke="#c8c8c8"/>
<line x1="378.5" y1="1198" x2="378.5" y2="1203" stroke="#000"/>
<text x="358.45" y="1213.00" font-size="11.5" textLength="37.29" lengthAdjust="spacingAndGlyphs" fill="#000">22 Juin</text>
<line x1="389.5" y1="1201" x2="389.5" y2="1203" stroke="#c8c8c8"/>
<line x1="400.5" y1="1201" x2="400.5" y2="1203" stroke="#c8c8c8"/>
<line x1="411.5" y1="1201" x2="411.5" y2="1203" stroke="#c8c8c8"/>
<line x1="422.5" y1="1201" x2="422.5" y2="1203" stroke="#c8c8c8"/>
<line x1="433.5" y1="1198" x2="433.5" y2="1203" stroke="#000"/>
<text x="413.45" y="1213.00" font-size="11.5" textLength="37.29" lengthAdjust="spacingAndGlyphs" fill="#000">29 Juin</text>
<line x1="444.5" y1="1201" x2="444.5" y2="1203" stroke="#c8c8c8"/>
<line x1="455.5" y1="1201" x2="455.5" y2="1203" stroke="#c8c8c8"/>
<line x1="466.5" y1="1201" x2="466.5" y2="1203" stroke="#c8c8c8"/>
<line x1="477.5" y1="1201" x2="477.5" y2="1203" stroke="#c8c8c8"/>
<line x1="488.5" y1="1198" x2="488.5" y2="1203" stroke="#000"/>
<text x="473.94" y="1213.00" font-size="11.5" textLength="26.32" lengthAdjust="spacingAndGlyphs" fill="#000">6 Juil</text>
<line x1="499.5" y1="1201" x2="499.5" y2="1203" stroke="#c8c8c8"/>
<line x1="510.5" y1="1201" x2="510.5" y2="1203" stroke="#c8c8c8"/>
<line x1="521.5" y1="1201" x2="521.5" y2="1203" stroke="#c8c8c8"/>
<line x1="532.5" y1="1201" x2="532.5" y2="1203" stroke="#c8c8c8"/>
<line x1="542.5" y1="1198" x2="542.5" y2="1203" stroke="#000"/>
<text x="524.35" y="1213.00" font-size="11.5" textLength="33.19" lengthAdjust="spacingAndGlyphs" fill="#000">13 Juil</text>
<line x1="553.5" y1="1201" x2="553.5" y2="1203" stroke="#c8c8c8"/>
<line x1="564.5" y1="1201" x2="564.5" y2="1203" stroke="#c8c8c8"/>
<line x1="575.5" y1="1201" x2="575.5" y2="1203" stroke="#c8c8c8"/>
<line x1="586.5" y1="1201" x2="586.5" y2="1203" stroke="#c8c8c8"/>
<line x1="597.5" y1="1198" x2="597.5" y2="1203" stroke="#000"/>
<text x="579.45" y="1213.00" font-size="11.5" textLength="33.29" lengthAdjust="spacingAndGlyphs" fill="#000">20 Juil</text>
<line x1="608.5" y1="1201" x2="608.5" y2="1203" stroke="#c8c8c8"/>
<line x1="619.5" y1="1201" x2="619.5" y2="1203" stroke="#c8c8c8"/>
<line x1="630.5" y1="1201" x2="630.5" y2="1203" stroke="#c8c8c8"/>
<line x1="641.5" y1="1201" x2="641.5" y2="1203" stroke="#c8c8c8"/>
<line x1="652.5" y1="1198" x2="652.5" y2="1203" stroke="#000"/>
<text x="634.45" y="1213.00" font-size="11.5" textLength="33.29" lengthAdjust="spacingAndGlyphs" fill="#000">27 Juil</text>
<line x1="663.5" y1="1201" x2="663.5" y2="1203" stroke="#c8c8c8"/>
<line x1="674.5" y1="1201" x2="674.5" y2="1203" stroke="#c8c8c8"/>
<line x1="685.5" y1="1201" x2="685.5" y2="1203" stroke="#c8c8c8"/>
<line x1="696.5" y1="1201" x2="696.5" y2="1203" stroke="#c8c8c8"/>
<line x1="707.5" y1="1198" x2="707.5" y2="1203" stroke="#000"/>
<text x="688.14" y="1214.20" font-size="11.5" textLength="35.36" lengthAdjust="spacingAndGlyphs" fill="#000">3 Août</text>
<line x1="717.5" y1="1201" x2="717.5" y2="1203" stroke="#c8c8c8"/>
<line x1="728.5" y1="1201" x2="728.5" y2="1203" stroke="#c8c8c8"/>
<line x1="739.5" y1="1201" x2="739.5" y2="1203" stroke="#c8c8c8"/>
<line x1="750.5" y1="1201" x2="750.5" y2="1203" stroke="#c8c8c8"/>
<line x1="761.5" y1="1198" x2="761.5" y2="1203" stroke="#000"/>
<text x="738.38" y="1214.20" font-size="11.5" textLength="42.45" lengthAdjust="spacingAndGlyphs" fill="#000">10 Août</text>
<line x1="772.5" y1="1201" x2="772.5" y2="1203" stroke="#c8c8c8"/>
<line x1="783.5" y1="1201" x2="783.5" y2="1203" stroke="#c8c8c8"/>
<line x1="794.5" y1="1201" x2="794.5" y2="1203" stroke="#c8c8c8"/>
<line x1="805.5" y1="1201" x2="805.5" y2="1203" stroke="#c8c8c8"/>
<line x1="816.5" y1="1198" x2="816.5" y2="1203" stroke="#000"/>
<text x="793.38" y="1214.20" font-size="11.5" textLength="42.45" lengthAdjust="spacingAndGlyphs" fill="#000">17 Août</text>
<line x1="827.5" y1="1201" x2="827.5" y2="1203" stroke="#c8c8c8"/>
<line x1="838.5" y1="1201" x2="838.5" y2="1203" stroke="#c8c8c8"/>
<line x1="849.5" y1="1201" x2="849.5" y2="1203" stroke="#c8c8c8"/>
<line x1="860.5" y1="1201" x2="860.5" y2="1203" stroke="#c8c8c8"/>
<line x1="871.5" y1="1198" x2="871.5" y2="1203" stroke="#000"/>
<text x="848.50" y="1214.20" font-size="11.5" textLength="42.52" lengthAdjust="spacingAndGlyphs" fill="#000">24 Août</text>
<line x1="882.5" y1="1201" x2="882.5" y2="1203" stroke="#c8c8c8"/>
<line x1="892.5" y1="1201" x2="892.5" y2="1203" stroke="#c8c8c8"/>
<line x1="903.5" y1="1201" x2="903.5" y2="1203" stroke="#c8c8c8"/>
<line x1="914.5" y1="1201" x2="914.5" y2="1203" stroke="#c8c8c8"/>
<line x1="925.5" y1="1198" x2="925.5" y2="1203" stroke="#000"/>
<text x="902.64" y="1214.20" font-size="11.5" textLength="42.36" lengthAdjust="spacingAndGlyphs" fill="#000">31 Août</text>
<line x1="936.5" y1="1201" x2="936.5" y2="1203" stroke="#c8c8c8"/>
<line x1="947.5" y1="1201" x2="947.5" y2="1203" stroke="#c8c8c8"/>
<line x1="958.5" y1="1201" x2="958.5" y2="1203" stroke="#c8c8c8"/>
<line x1="969.5" y1="1201" x2="969.5" y2="1203" stroke="#c8c8c8"/>
<line x1="980.5" y1="1198" x2="980.5" y2="1203" stroke="#000"/>
<text x="961.17" y="1213.00" font-size="11.5" textLength="35.14" lengthAdjust="spacingAndGlyphs" fill="#000">7 Sept</text>
<line x1="991.5" y1="1201" x2="991.5" y2="1203" stroke="#c8c8c8"/>
<line x1="1002.5" y1="1201" x2="1002.5" y2="1203" stroke="#c8c8c8"/>
<line x1="1013.5" y1="1201" x2="1013.5" y2="1203" stroke="#c8c8c8"/>
<line x1="1024.5" y1="1201" x2="1024.5" y2="1203" stroke="#c8c8c8"/>
<line x1="1035.5" y1="1198" x2="1035.5" y2="1203" stroke="#000"/>
<text x="1012.55" y="1213.00" font-size="11.5" textLength="42.10" lengthAdjust="spacingAndGlyphs" fill="#000">14 Sept</text>
<line x1="1046.5" y1="1201" x2="1046.5" y2="1203" stroke="#c8c8c8"/>
<line x1="1057.5" y1="1201" x2="1057.5" y2="1203" stroke="#c8c8c8"/>
<line x1="1067.5" y1="1201" x2="1067.5" y2="1203" stroke="#c8c8c8"/>
<line x1="1078.5" y1="1201" x2="1078.5" y2="1203" stroke="#c8c8c8"/>
<line x1="1089.5" y1="1198" x2="1089.5" y2="1203" stroke="#000"/>
<text x="1066.66" y="1213.00" font-size="11.5" textLength="42.19" lengthAdjust="spacingAndGlyphs" fill="#000">21 Sept</text>
<line x1="1100.5" y1="1201" x2="1100.5" y2="1203" stroke="#c8c8c8"/>
<line x1="1111.5" y1="1201" x2="1111.5" y2="1203" stroke="#c8c8c8"/>
<line x1="1122.5" y1="1201" x2="1122.5" y2="1203" stroke="#c8c8c8"/>
<line x1="1133.5" y1="1201" x2="1133.5" y2="1203" stroke="#c8c8c8"/>
<line x1="1144.5" y1="1198" x2="1144.5" y2="1203" stroke="#000"/>
<text x="1121.66" y="1213.00" font-size="11.5" textLength="42.19" lengthAdjust="spacingAndGlyphs" fill="#000">28 Sept</text>
<text x="498.49" y="1227.00" font-size="11.5" textLength="249.24" lengthAdjust="spacingAndGlyphs" fill="#000">Date (du 18 Mai 2018 au 28 Septembre 2018)</text>
<text x="-1120.77" y="55.00" font-size="11.5" textLength="17.61" lengthAdjust="spacingAndGlyphs" transform="rotate(-90)">RSI</text>
<text x="109.66" y="994.00" font-size="25" textLength="676.39" lengthAdjust="spacingAndGlyphs" fill="#000">Nexans: graphique du RSI - RSI(14) - AnalyBourse.com</text>
<rect x="102" y="1441" width="1049" height="29" fill="#f8f8f8"/>
<rect x="102" y="1383" width="1049" height="29" fill="#f8f8f8"/>
<rect x="102" y="1325" width="1049" height="29" fill="#f8f8f8"/>
<line x1="105.5" y1="1325" x2="105.5" y2="1500" stroke="#dcdcdc" stroke-dasharray="4 4" stroke-dashoffset="1"/>
<line x1="116.5" y1="1325" x2="116.5" y2="1500" stroke="#f0f0f0" stroke-dasharray="6 6" stroke-dashoffset="1"/>
<line x1="127.5" y1="1325" x2="127.5" y2="1500" stroke="#f0f0f0" stroke-dasharray="6 6" stroke-dashoffset="1"/>
<line x1="138.5" y1="1325" x2="138.5" y2="1500" stroke="#f0f0f0" stroke-dasharray="6 6" stroke-dashoffset="1"/>
<line x1="149.5" y1="1325" x2="149.5" y2="1500" stroke="#f0f0f0" stroke-dasharray="6 6" stroke-dashoffset="1"/>
<line x1="160.5" y1="1325" x2="160.5" y2="1500" stroke="#dcdcdc" stroke-dasharray="4 4" stroke-dashoffset="1"/>
<line x1="171.5" y1="1325" x2="171.5" y2="1500" stroke="#f0f0f0" stroke-dasharray="6 6" stroke-dashoffset="1"/>
<line x1="182.5" y1="1325" x2="182.5" y2="1500" stroke="#f0f0f0" stroke-dasharray="6 6" stroke-dashoffset="1"/>
<line x1="192.5" y1="1325" x2="192.5" y2="1500" stroke="#f0f0f0" stroke-dasharray="6 6" stroke-dashoffset="1"/>
<line x1="203.5" y1="1325" x2="203.5" y2="1500" stroke="#f0f0f0" stroke-dasharray="6 6" stroke-dashoffset="1"/>
<line x1="214.5" y1="1325" x2="214.5" y2="1500" stroke="#dcdcdc" stroke-dasharray="4 4" stroke-dashoffset="1"/>
<line x1="225.5" y1="1325" x2="225.5" y2="1500" stroke="#f0f0f0" stroke-dasharray="6 6" stroke-dashoffset="1"/>
<line x1="236.5" y1="1325" x2="236.5" y2="1500" stroke="#f0f0f0" stroke-dasharray="6 6" stroke-dashoffset="1"/>
<line x1="247.5" y1="1325" x2="247.5" y2="1500" stroke="#f0f0f0" stroke-dasharray="6 6" stroke-dashoffset="1"/>
<line x1="258.5" y1="1325" x2="258.5" y2="1500" stroke="#f0f0f0" stroke-dasharray="6 6" stroke-dashoffset="1"/>
<line x1="269.5" y1="1325" x2="269.5" y2="1500" stroke="#dcdcdc" stroke-dasharray="4 4" stroke-dashoffset="1"/>
<line x1="280.5" y1="1325" x2="280.5" y2="1500" stroke="#f0f0f0" stroke-dasharray="6 6" stroke-dashoffset="1"/>
<line x1="291.5" y1="1325" x2="291.5" y2="1500" stroke="#f0f0f0" stroke-dasharray="6 6" stroke-dashoffset="1"/>
<line x1="302.5" y1="1325" x2="302.5" y2="1500" stroke="#f0f0f0" stroke-dasharray="6 6" stroke-dashoffset="1"/>
<line x1="313.5" y1="1325" x2="313.5" y2="1500" stroke="#f0f0f0" stroke-dasharray="6 6" stroke-dashoffset="1"/>
<line x1="324.5" y1="1325" x2="324.5" y2="1500" stroke="#dcdcdc" stroke-dasharray="4 4" stroke-dashoffset="1"/>
<line x1="335.5" y1="1325" x2="335.5" y2="1500" stroke="#f0f0f0" stroke-dasharray="6 6" stroke-dashoffset="1"/>
<line x1="346.5" y1="1325" x2="346.5" y2="1500" stroke="#f0f0f0" stroke-dasharray="6 6" stroke-dashoffset="1"/>
<line x1="357.5" y1="1325" x2="357.5" y2="1500" stroke="#f0f0f0" stroke-dasharray="6 6" stroke-dashoffset="1"/>
<line x1="367.5" y1="1325" x2="367.5" y2="1500" stroke="#f0f0f0" stroke-dasharray="6 6" stroke-dashoffset="1"/>
<line x1="378.5" y1="1325" x2="378.5" y2="1500" stroke="#dcdcdc" stroke-dasharray="4 4" stroke-dashoffset="1"/>
<line x1="389.5" y1="1325" x2="389.5" y2="1500" stroke="#f0f0f0" stroke-dasharray="6 6" stroke-dashoffset="1"/>
<line x1="400.5" y1="1325" x2="400.5" y2="1500" stroke="#f0f0f0" stroke-dasharray="6 6" stroke-dashoffset="1"/>
<line x1="411.5" y1="1325" x2="411.5" y2="1500" stroke="#f0f0f0" stroke-dasharray="6 6" stroke-dashoffset="1"/>
<line x1="422.5" y1="1325" x2="422.5" y2="1500" stroke="#f0f0f0" stroke-dasharray="6 6" stroke-dashoffset="1"/>
<line x1="433.5" y1="1325" x2="433.5" y2="1500" stroke="#dcdcdc" stroke-dasharray="4 4" stroke-dashoffset="1"/>
<line x1="444.5" y1="1325" x2="444.5" y2="1500" stroke="#f0f0f0" stroke-dasharray="6 6" stroke-dashoffset="1"/>
<line x1="455.5" y1="1325" x2="455.5" y2="1500" stroke="#f0f0f0" stroke-dasharray="6 6" stroke-dashoffset="1"/>
<line x1="466.5" y1="1325" x2="466.5" y2="1500" stroke="#f0f0f0" stroke-dasharray="6 6" stroke-dashoffset="1"/>
<line x1="477.5" y1="1325" x2="477.5" y2="1500" stroke="#f0f0f0" stroke-dasharray="6 6" stroke-dashoffset="1"/>
<line x1="488.5" y1="1325" x2="488.5" y2="1500" stroke="#dcdcdc" stroke-dasharray="4 4" stroke-dashoffset="1"/>
<line x1="499.5" y1="1325" x2="499.5" y2="1500" stroke="#f0f0f0" stroke-dasharray="6 6" stroke-dashoffset="1"/>
<line x1="510.5" y1="1325" x2="510.5" y2="1500" stroke="#f0f0f0" stroke-dasharray="6 6" stroke-dashoffset="1"/>
<line x1="521.5" y1="1325" x2="521.5" y2="1500" stroke="#f0f0f0" stroke-dasharray="6 6" stroke-dashoffset="1"/>
<line x1="532.5" y1="1325" x2="532.5" y2="1500" stroke="#f0f0f0" stroke-dasharray="6 6" stroke-dashoffset="1"/>
<line x1="542.5" y1="1325" x2="542.5" y2="1500" stroke="#dcdcdc" stroke-dasharray="4 4" stroke-dashoffset="1"/>
<line x1="553.5" y1="1325" x2="553.5" y2="1500" stroke="#f0f0f0" stroke-dasharray="6 6" stroke-dashoffset="1"/>
<line x1="564.5" y1="1325" x2="564.5" y2="1500" stroke="#f0f0f0" stroke-dasharray="6 6" stroke-dashoffset="1"/>
<line x1="575.5" y1="1325" x2="575.5" y2="1500" stroke="#f0f0f0" stroke-dasharray="6 6" stroke-dashoffset="1"/>
<line x1="586.5" y1="1325" x2="586.5" y2="1500" stroke="#f0f0f0" stroke-dasharray="6 6" stroke-dashoffset="1"/>
<line x1="597.5" y1="1325" x2="597.5" y2="1500" stroke="#dcdcdc" stroke-dasharray="4 4" stroke-dashoffset="1"/>
<line x1="608.5" y1="1325" x2="608.5" y2="1500" stroke="#f0f0f0" stroke-dasharray="6 6" stroke-dashoffset="1"/>
<line x1="619.5" y1="1325" x2="619.5" y2="1500" stroke="#f0f0f0" stroke-dasharray="6 6" stroke-dashoffset="1"/>
<line x1="630.5" y1="1325" x2="630.5" y2="1500" stroke="#f0f0f0" stroke-dasharray="6 6" stroke-dashoffset="1"/>
<line x1="641.5" y1="1325" x2="641.5" y2="1500" stroke="#f0f0f0" stroke-dasharray="6 6" stroke-dashoffset="1"/>
<line x1="652.5" y1="1325" x2="652.5" y2="1500" stroke="#dcdcdc" stroke-dasharray="4 4" stroke-dashoffset="1"/>
<line x1="663.5" y1="1325" x2="663.5" y2="1500" stroke="#f0f0f0" stroke-dasharray="6 6" stroke-dashoffset="1"/>
<line x1="674.5" y1="1325" x2="674.5" y2="1500" stroke="#f0f0f0" stroke-dasharray="6 6" stroke-dashoffset="1"/>
<line x1="685.5" y1="1325" x2="685.5" y2="1500" stroke="#f0f0f0" stroke-dasharray="6 6" stroke-dashoffset="1"/>
<line x1="696.5" y1="1325" x2="696.5" y2="1500" stroke="#f0f0f0" stroke-dasharray="6 6" stroke-dashoffset="1"/>
<line x1="707.5" y1="1325" x2="707.5" y2="1500" stroke="#dcdcdc" stroke-dasharray="4 4" stroke-dashoffset="1"/>
<line x1="717.5" y1="1325" x2="717.5" y2="1500" stroke="#f0f0f0" stroke-dasharray="6 6" stroke-dashoffset="1"/>
<line x1="728.5" y1="1325" x2="728.5" y2="1500" stroke="#f0f0f0" stroke-dasharray="6 6" stroke-dashoffset="1"/>
<line x1="739.5" y1="1325" x2="739.5" y2="1500" stroke="#f0f0f0" stroke-dasharray="6 6" stroke-dashoffset="1"/>
<line x1="750.5" y1="1325" x2="750.5" y2="1500" stroke="#f0f0f0" stroke-dasharray="6 6" stroke-dashoffset="1"/>
<line x1="761.5" y1="1325" x2="761.5" y2="1500" stroke="#dcdcdc" stroke-dasharray="4 4" stroke-dashoffset="1"/>
<line x1="772.5" y1="1325" x2="772.5" y2="1500" stroke="#f0f0f0" stroke-dasharray="6 6" stroke-dashoffset="1"/>
<line x1="783.5" y1="1325" x2="783.5" y2="1500" stroke="#f0f0f0" stroke-dasharray="6 6" stroke-dashoffset="1"/>
<line x1="794.5" y1="1325" x2="794.5" y2="1500" stroke="#f0f0f0" stroke-dasharray="6 6" stroke-dashoffset="1"/>
<line x1="805.5" y1="1325" x2="805.5" y2="1500" stroke="#f0f0f0" stroke-dasharray="6 6" stroke-dashoffset="1"/>
<line x1="816.5" y1="1325" x2="816.5" y2="1500" stroke="#dcdcdc" stroke-dasharray="4 4" stroke-dashoffset="1"/>
<line x1="827.5" y1="1325" x2="827.5" y2="1500" stroke="#f0f0f0" stroke-dasharray="6 6" stroke-dashoffset="1"/>
<line x1="838.5" y1="1325" x2="838.5" y2="1500" stroke="#f0f0f0" stroke-dasharray="6 6" stroke-dashoffset="1"/>
<line x1="849.5" y1="1325" x2="849.5" y2="1500" stroke="#f0f0f0" stroke-dasharray="6 6" stroke-dashoffset="1"/>
<line x1="860.5" y1="1325" x2="860.5" y2="1500" stroke="#f0f0f0" stroke-dasharray="6 6" stroke-dashoffset="1"/>
<line x1="871.5" y1="1325" x2="871.5" y2="1500" stroke="#dcdcdc" stroke-dasharray="4 4" stroke-dashoffset="1"/>
<line x1="882.5" y1="1325" x2="882.5" y2="1500" stroke="#f0f0f0" stroke-dasharray="6 6" stroke-dashoffset="1"/>
<line x1="892.5" y1="1325" x2="892.5" y2="1500" stroke="#f0f0f0" stroke-dasharray="6 6" stroke-dashoffset="1"/>
<line x1="903.5" y1="1325" x2="903.5" y2="1500" stroke="#f0f0f0" stroke-dasharray="6 6" stroke-dashoffset="1"/>
<line x1="914.5" y1="1325" x2="914.5" y2="1500" stroke="#f0f0f0" stroke-dasharray="6 6" stroke-dashoffset="1"/>
<line x1="925.5" y1="1325" x2="925.5" y2="1500" stroke="#dcdcdc" stroke-dasharray="4 4" stroke-dashoffset="1"/>
<line x1="936.5" y1="1325" x2="936.5" y2="1500" stroke="#f0f0f0" stroke-dasharray="6 6" stroke-dashoffset="1"/>
<line x1="947.5" y1="1325" x2="947.5" y2="1500" stroke="#f0f0f0" stroke-dasharray="6 6" stroke-dashoffset="1"/>
<line x1="958.5" y1="1325" x2="958.5" y2="1500" stroke="#f0f0f0" stroke-dasharray="6 6" stroke-dashoffset="1"/>
<line x1="969.5" y1="1325" x2="969.5" y2="1500" stroke="#f0f0f0" stroke-dasharray="6 6" stroke-dashoffset="1"/>
<line x1="980.5" y1="1325" x2="980.5" y2="1500" stroke="#dcdcdc" stroke-dasharray="4 4" stroke-dashoffset="1"/>
<line x1="991.5" y1="1325" x2="991.5" y2="1500" stroke="#f0f0f0" stroke-dasharray="6 6" stroke-dashoffset="1"/>
<line x1="1002.5" y1="1325" x2="1002.5" y2="1500" stroke="#f0f0f0" stroke-dasharray="6 6" stroke-dashoffset="1"/>
<line x1="1013.5" y1="1325" x2="1013.5" y2="1500" stroke="#f0f0f0" stroke-dasharray="6 6" stroke-dashoffset="1"/>
<line x1="1024.5" y1="1325" x2="1024.5" y2="1500" stroke="#f0f0f0" stroke-dasharray="6 6" stroke-dashoffset="1"/>
<line x1="1035.5" y1="1325" x2="1035.5" y2="1500" stroke="#dcdcdc" stroke-dasharray="4 4" stroke-dashoffset="1"/>
<line x1="1046.5" y1="1325" x2="1046.5" y2="1500" stroke="#f0f0f0" stroke-dasharray="6 6" stroke-dashoffset="1"/>
<line x1="1057.5" y1="1325" x2="1057.5" y2="1500" stroke="#f0f0f0" stroke-dasharray="6 6" stroke-dashoffset="1"/>
<line x1="1067.5" y1="1325" x2="1067.5" y2="1500" stroke="#f0f0f0" stroke-dasharray="6 6" stroke-dashoffset="1"/>
<line x1="1078.5" y1="1325" x2="1078.5" y2="1500" stroke="#f0f0f0" stroke-dasharray="6 6" stroke-dashoffset="1"/>
<line x1="1089.5" y1="1325" x2="1089.5" y2="1500" stroke="#dcdcdc" stroke-dasharray="4 4" stroke-dashoffset="1"/>
<line x1="1100.5" y1="1325" x2="1100.5" y2="1500" stroke="#f0f0f0" stroke-dasharray="6 6" stroke-dashoffset="1"/>
<line x1="1111.5" y1="1325" x2="1111.5" y2="1500" stroke="#f0f0f0" stroke-dasharray="6 6" stroke-dashoffset="1"/>
<line x1="1122.5" y1="1325" x2="1122.5" y2="1500" stroke="#f0f0f0" stroke-dasharray="6 6" stroke-dashoffset="1"/>
<line x1="1133.5" y1="1325" x2="1133.5" y2="1500" stroke="#f0f0f0" stroke-dasharray="6 6" stroke-dashoffset="1"/>
<line x1="1144.5" y1="1325" x2="1144.5" y2="1500" stroke="#dcdcdc" stroke-dasharray="4 4" stroke-dashoffset="1"/>
<line x1="107" y1="1325.5" x2="1151" y2="1325.5" stroke="#e0e0e0" stroke-dasharray="4 4"/>
<line x1="107" y1="1354.5" x2="1151" y2="1354.5" stroke="#e0e0e0" stroke-dasharray="4 4"/>
<line x1="107" y1="1383.5" x2="1151" y2="1383.5" stroke="#e0e0e0" stroke-dasharray="4 4"/>
<line x1="107" y1="1412.5" x2="1151" y2="1412.5" stroke="#e0e0e0" stroke-dasharray="4 4"/>
<line x1="107" y1="1441.5" x2="1151" y2="1441.5" stroke="#e0e0e0" stroke-dasharray="4 4"/>
<line x1="107" y1="1470.5" x2="1151" y2="1470.5" stroke="#e0e0e0" stroke-dasharray="4 4"/>
<clipPath id="cpPos"><rect x="100" y="1300" width="1100" height="84.00"/></clipPath>
<clipPath id="cpNeg"><rect x="100" y="1384.00" width="1100" height="250"/></clipPath>
<path d="M105.47 1384 L105.47 1403.75 C106.74 1403.02 113.85 1398.75 116.41 1397.50 C118.96 1396.25 124.79 1393.73 127.34 1393.00 C129.90 1392.27 135.73 1391.75 138.28 1391.25 C140.83 1390.75 146.67 1389.54 149.22 1388.75 C151.77 1387.96 157.60 1385.17 160.16 1384.50 C162.71 1383.83 168.54 1381.83 171.09 1383.00 C173.65 1384.17 179.48 1392.66 182.03 1394.50 C184.58 1396.34 190.42 1398.17 192.97 1398.75 C195.52 1399.33 201.35 1400.38 203.91 1399.50 C206.46 1398.62 212.29 1393.29 214.84 1391.25 C217.40 1389.21 223.23 1383.17 225.78 1382.00 C228.33 1380.83 234.17 1381.28 236.72 1381.25 C239.27 1381.22 245.10 1381.31 247.66 1381.75 C250.21 1382.19 256.04 1383.10 258.59 1385.00 C261.15 1386.90 266.98 1396.02 269.53 1398.00 C272.08 1399.98 277.92 1401.24 280.47 1402.00 C283.02 1402.76 288.85 1404.44 291.41 1404.50 C293.96 1404.56 299.79 1403.32 302.34 1402.50 C304.90 1401.68 310.73 1398.14 313.28 1397.50 C315.83 1396.86 321.67 1391.46 324.22 1397.00 C326.77 1402.54 332.60 1434.79 335.16 1445.00 C337.71 1455.21 343.54 1479.19 346.09 1484.50 C348.65 1489.81 354.48 1489.71 357.03 1490.50 C359.58 1491.29 365.42 1491.83 367.97 1491.25 C370.52 1490.67 376.35 1487.45 378.91 1485.50 C381.46 1483.55 387.29 1477.18 389.84 1474.50 C392.40 1471.82 398.23 1465.80 400.78 1462.50 C403.33 1459.20 409.17 1449.60 411.72 1446.25 C414.27 1442.90 420.10 1436.96 422.66 1433.75 C425.21 1430.54 431.04 1421.08 433.59 1418.75 C436.15 1416.42 441.98 1416.08 444.53 1413.75 C447.08 1411.42 452.92 1402.69 455.47 1398.75 C458.02 1394.81 463.85 1384.08 466.41 1380.00 C468.96 1375.92 474.79 1366.67 477.34 1363.75 C479.90 1360.83 485.73 1357.04 488.28 1355.00 C490.83 1352.96 496.67 1348.53 499.22 1346.25 C501.77 1343.97 507.60 1336.75 510.16 1335.50 C512.71 1334.25 518.54 1335.33 521.09 1335.50 C523.65 1335.67 529.48 1336.83 532.03 1337.00 C534.58 1337.17 540.42 1337.23 542.97 1337.00 C545.52 1336.77 551.35 1335.32 553.91 1335.00 C556.46 1334.68 562.29 1334.25 564.84 1334.25 C567.40 1334.25 573.23 1334.47 575.78 1335.00 C578.33 1335.53 584.17 1337.73 586.72 1338.75 C589.27 1339.77 595.10 1342.20 597.66 1343.75 C600.21 1345.30 606.04 1351.33 608.59 1352.00 C611.15 1352.67 616.98 1350.08 619.53 1349.50 C622.08 1348.92 627.92 1347.38 630.47 1347.00 C633.02 1346.62 638.85 1344.00 641.41 1346.25 C643.96 1348.50 649.79 1363.97 652.34 1366.25 C654.90 1368.53 660.73 1366.13 663.28 1365.75 C665.83 1365.37 671.67 1363.09 674.22 1363.00 C676.77 1362.91 682.60 1364.77 685.16 1365.00 C687.71 1365.23 693.54 1365.09 696.09 1365.00 C698.65 1364.91 704.48 1364.40 707.03 1364.25 C709.58 1364.10 715.42 1365.18 717.97 1363.75 C720.52 1362.32 726.35 1353.90 728.91 1352.00 C731.46 1350.10 737.29 1348.32 739.84 1347.50 C742.40 1346.68 748.23 1345.35 750.78 1345.00 C753.33 1344.65 759.17 1343.92 761.72 1344.50 C764.27 1345.08 770.10 1348.54 772.66 1350.00 C775.21 1351.46 781.04 1354.90 783.59 1357.00 C786.15 1359.10 791.98 1365.75 794.53 1368.00 C797.08 1370.25 802.92 1374.62 805.47 1376.25 C808.02 1377.88 813.85 1381.56 816.41 1382.00 C818.96 1382.44 824.79 1381.40 827.34 1380.00 C829.90 1378.60 835.73 1372.28 838.28 1370.00 C840.83 1367.72 846.67 1362.02 849.22 1360.50 C851.77 1358.98 857.60 1357.35 860.16 1357.00 C862.71 1356.65 868.54 1357.44 871.09 1357.50 C873.65 1357.56 879.48 1356.97 882.03 1357.50 C884.58 1358.03 890.42 1360.54 892.97 1362.00 C895.52 1363.46 901.35 1368.42 903.91 1370.00 C906.46 1371.58 912.29 1374.04 914.84 1375.50 C917.40 1376.96 923.23 1381.16 925.78 1382.50 C928.33 1383.84 934.17 1385.54 936.72 1387.00 C939.27 1388.46 945.10 1393.25 947.66 1395.00 C950.21 1396.75 956.04 1400.13 958.59 1402.00 C961.15 1403.87 966.98 1408.93 969.53 1411.00 C972.08 1413.07 977.92 1419.00 980.47 1419.70 C983.02 1420.40 988.85 1417.51 991.41 1417.00 C993.96 1416.49 999.79 1414.98 1002.34 1415.30 C1004.90 1415.62 1010.73 1420.23 1013.28 1419.70 C1015.83 1419.17 1021.67 1413.13 1024.22 1410.80 C1026.77 1408.47 1032.60 1402.48 1035.16 1399.70 C1037.71 1396.92 1043.54 1390.08 1046.09 1387.00 C1048.65 1383.92 1054.48 1376.30 1057.03 1373.30 C1059.58 1370.30 1065.42 1364.22 1067.97 1361.30 C1070.52 1358.38 1076.35 1351.17 1078.91 1348.30 C1081.46 1345.43 1087.29 1338.13 1089.84 1336.70 C1092.40 1335.27 1098.23 1335.03 1100.78 1336.00 C1103.33 1336.97 1109.17 1342.88 1111.72 1345.00 C1114.27 1347.12 1120.10 1353.13 1122.66 1354.20 C1125.21 1355.27 1131.04 1353.76 1133.59 1354.20 C1136.15 1354.64 1143.26 1357.56 1144.53 1358.00 L1144.53 1384 Z" fill="#00ff00" fill-opacity="0.41" clip-path="url(#cpPos)"/>
<path d="M105.47 1384 L105.47 1403.75 C106.74 1403.02 113.85 1398.75 116.41 1397.50 C118.96 1396.25 124.79 1393.73 127.34 1393.00 C129.90 1392.27 135.73 1391.75 138.28 1391.25 C140.83 1390.75 146.67 1389.54 149.22 1388.75 C151.77 1387.96 157.60 1385.17 160.16 1384.50 C162.71 1383.83 168.54 1381.83 171.09 1383.00 C173.65 1384.17 179.48 1392.66 182.03 1394.50 C184.58 1396.34 190.42 1398.17 192.97 1398.75 C195.52 1399.33 201.35 1400.38 203.91 1399.50 C206.46 1398.62 212.29 1393.29 214.84 1391.25 C217.40 1389.21 223.23 1383.17 225.78 1382.00 C228.33 1380.83 234.17 1381.28 236.72 1381.25 C239.27 1381.22 245.10 1381.31 247.66 1381.75 C250.21 1382.19 256.04 1383.10 258.59 1385.00 C261.15 1386.90 266.98 1396.02 269.53 1398.00 C272.08 1399.98 277.92 1401.24 280.47 1402.00 C283.02 1402.76 288.85 1404.44 291.41 1404.50 C293.96 1404.56 299.79 1403.32 302.34 1402.50 C304.90 1401.68 310.73 1398.14 313.28 1397.50 C315.83 1396.86 321.67 1391.46 324.22 1397.00 C326.77 1402.54 332.60 1434.79 335.16 1445.00 C337.71 1455.21 343.54 1479.19 346.09 1484.50 C348.65 1489.81 354.48 1489.71 357.03 1490.50 C359.58 1491.29 365.42 1491.83 367.97 1491.25 C370.52 1490.67 376.35 1487.45 378.91 1485.50 C381.46 1483.55 387.29 1477.18 389.84 1474.50 C392.40 1471.82 398.23 1465.80 400.78 1462.50 C403.33 1459.20 409.17 1449.60 411.72 1446.25 C414.27 1442.90 420.10 1436.96 422.66 1433.75 C425.21 1430.54 431.04 1421.08 433.59 1418.75 C436.15 1416.42 441.98 1416.08 444.53 1413.75 C447.08 1411.42 452.92 1402.69 455.47 1398.75 C458.02 1394.81 463.85 1384.08 466.41 1380.00 C468.96 1375.92 474.79 1366.67 477.34 1363.75 C479.90 1360.83 485.73 1357.04 488.28 1355.00 C490.83 1352.96 496.67 1348.53 499.22 1346.25 C501.77 1343.97 507.60 1336.75 510.16 1335.50 C512.71 1334.25 518.54 1335.33 521.09 1335.50 C523.65 1335.67 529.48 1336.83 532.03 1337.00 C534.58 1337.17 540.42 1337.23 542.97 1337.00 C545.52 1336.77 551.35 1335.32 553.91 1335.00 C556.46 1334.68 562.29 1334.25 564.84 1334.25 C567.40 1334.25 573.23 1334.47 575.78 1335.00 C578.33 1335.53 584.17 1337.73 586.72 1338.75 C589.27 1339.77 595.10 1342.20 597.66 1343.75 C600.21 1345.30 606.04 1351.33 608.59 1352.00 C611.15 1352.67 616.98 1350.08 619.53 1349.50 C622.08 1348.92 627.92 1347.38 630.47 1347.00 C633.02 1346.62 638.85 1344.00 641.41 1346.25 C643.96 1348.50 649.79 1363.97 652.34 1366.25 C654.90 1368.53 660.73 1366.13 663.28 1365.75 C665.83 1365.37 671.67 1363.09 674.22 1363.00 C676.77 1362.91 682.60 1364.77 685.16 1365.00 C687.71 1365.23 693.54 1365.09 696.09 1365.00 C698.65 1364.91 704.48 1364.40 707.03 1364.25 C709.58 1364.10 715.42 1365.18 717.97 1363.75 C720.52 1362.32 726.35 1353.90 728.91 1352.00 C731.46 1350.10 737.29 1348.32 739.84 1347.50 C742.40 1346.68 748.23 1345.35 750.78 1345.00 C753.33 1344.65 759.17 1343.92 761.72 1344.50 C764.27 1345.08 770.10 1348.54 772.66 1350.00 C775.21 1351.46 781.04 1354.90 783.59 1357.00 C786.15 1359.10 791.98 1365.75 794.53 1368.00 C797.08 1370.25 802.92 1374.62 805.47 1376.25 C808.02 1377.88 813.85 1381.56 816.41 1382.00 C818.96 1382.44 824.79 1381.40 827.34 1380.00 C829.90 1378.60 835.73 1372.28 838.28 1370.00 C840.83 1367.72 846.67 1362.02 849.22 1360.50 C851.77 1358.98 857.60 1357.35 860.16 1357.00 C862.71 1356.65 868.54 1357.44 871.09 1357.50 C873.65 1357.56 879.48 1356.97 882.03 1357.50 C884.58 1358.03 890.42 1360.54 892.97 1362.00 C895.52 1363.46 901.35 1368.42 903.91 1370.00 C906.46 1371.58 912.29 1374.04 914.84 1375.50 C917.40 1376.96 923.23 1381.16 925.78 1382.50 C928.33 1383.84 934.17 1385.54 936.72 1387.00 C939.27 1388.46 945.10 1393.25 947.66 1395.00 C950.21 1396.75 956.04 1400.13 958.59 1402.00 C961.15 1403.87 966.98 1408.93 969.53 1411.00 C972.08 1413.07 977.92 1419.00 980.47 1419.70 C983.02 1420.40 988.85 1417.51 991.41 1417.00 C993.96 1416.49 999.79 1414.98 1002.34 1415.30 C1004.90 1415.62 1010.73 1420.23 1013.28 1419.70 C1015.83 1419.17 1021.67 1413.13 1024.22 1410.80 C1026.77 1408.47 1032.60 1402.48 1035.16 1399.70 C1037.71 1396.92 1043.54 1390.08 1046.09 1387.00 C1048.65 1383.92 1054.48 1376.30 1057.03 1373.30 C1059.58 1370.30 1065.42 1364.22 1067.97 1361.30 C1070.52 1358.38 1076.35 1351.17 1078.91 1348.30 C1081.46 1345.43 1087.29 1338.13 1089.84 1336.70 C1092.40 1335.27 1098.23 1335.03 1100.78 1336.00 C1103.33 1336.97 1109.17 1342.88 1111.72 1345.00 C1114.27 1347.12 1120.10 1353.13 1122.66 1354.20 C1125.21 1355.27 1131.04 1353.76 1133.59 1354.20 C1136.15 1354.64 1143.26 1357.56 1144.53 1358.00 L1144.53 1384 Z" fill="#ff0000" fill-opacity="0.41" clip-path="url(#cpNeg)"/>
<line x1="335" y1="1448.5" x2="346" y2="1448.5" stroke="#fff"/>
<line x1="100.5" y1="1320" x2="100.5" y2="1500.5" stroke="#111"/>
<path d="M100 1313 h1 v1 h1 v2 h1 v2 h1 v2 h-7 v-2 h1 v-2 h1 v-2 h1 z" fill="#000"/>
<line x1="98" y1="1500.5" x2="1163" y2="1500.5" stroke="#000"/>
<path d="M1155 1497 h2 v1 h2 v1 h2 v3 h-2 v1 h-2 v1 h-2 z" fill="#000"/>
<line x1="98" y1="1325.5" x2="103" y2="1325.5" stroke="#000"/>
<text x="70.72" y="1329.00" font-size="11.5" textLength="24.05" lengthAdjust="spacingAndGlyphs" fill="#000">0.40</text>
<line x1="98" y1="1354.5" x2="103" y2="1354.5" stroke="#000"/>
<text x="70.72" y="1358.00" font-size="11.5" textLength="24.05" lengthAdjust="spacingAndGlyphs" fill="#000">0.20</text>
<line x1="98" y1="1383.5" x2="103" y2="1383.5" stroke="#000"/>
<text x="70.72" y="1387.00" font-size="11.5" textLength="24.05" lengthAdjust="spacingAndGlyphs" fill="#000">0.00</text>
<line x1="98" y1="1412.5" x2="103" y2="1412.5" stroke="#000"/>
<text x="66.56" y="1416.00" font-size="11.5" textLength="28.24" lengthAdjust="spacingAndGlyphs" fill="#000">-0.20</text>
<line x1="98" y1="1441.5" x2="103" y2="1441.5" stroke="#000"/>
<text x="66.56" y="1445.00" font-size="11.5" textLength="28.24" lengthAdjust="spacingAndGlyphs" fill="#000">-0.40</text>
<line x1="98" y1="1470.5" x2="103" y2="1470.5" stroke="#000"/>
<text x="66.56" y="1474.00" font-size="11.5" textLength="28.24" lengthAdjust="spacingAndGlyphs" fill="#000">-0.60</text>
<line x1="98" y1="1500.5" x2="103" y2="1500.5" stroke="#000"/>
<text x="66.56" y="1504.00" font-size="11.5" textLength="28.24" lengthAdjust="spacingAndGlyphs" fill="#000">-0.80</text>
<line x1="98" y1="1339.5" x2="100" y2="1339.5" stroke="#f00"/>
<line x1="98" y1="1368.5" x2="100" y2="1368.5" stroke="#f00"/>
<line x1="98" y1="1397.5" x2="100" y2="1397.5" stroke="#f00"/>
<line x1="98" y1="1426.5" x2="100" y2="1426.5" stroke="#f00"/>
<line x1="98" y1="1455.5" x2="100" y2="1455.5" stroke="#f00"/>
<line x1="98" y1="1485.5" x2="100" y2="1485.5" stroke="#f00"/>
<line x1="105.5" y1="1498" x2="105.5" y2="1503" stroke="#000"/>
<text x="85.81" y="1513.00" font-size="11.5" textLength="36.30" lengthAdjust="spacingAndGlyphs" fill="#000">18 Mai</text>
<line x1="116.5" y1="1501" x2="116.5" y2="1503" stroke="#c8c8c8"/>
<line x1="127.5" y1="1501" x2="127.5" y2="1503" stroke="#c8c8c8"/>
<line x1="138.5" y1="1501" x2="138.5" y2="1503" stroke="#c8c8c8"/>
<line x1="149.5" y1="1501" x2="149.5" y2="1503" stroke="#c8c8c8"/>
<line x1="160.5" y1="1498" x2="160.5" y2="1503" stroke="#000"/>
<text x="140.92" y="1513.00" font-size="11.5" textLength="36.39" lengthAdjust="spacingAndGlyphs" fill="#000">25 Mai</text>
<line x1="171.5" y1="1501" x2="171.5" y2="1503" stroke="#c8c8c8"/>
<line x1="182.5" y1="1501" x2="182.5" y2="1503" stroke="#c8c8c8"/>
<line x1="192.5" y1="1501" x2="192.5" y2="1503" stroke="#c8c8c8"/>
<line x1="203.5" y1="1501" x2="203.5" y2="1503" stroke="#c8c8c8"/>
<line x1="214.5" y1="1498" x2="214.5" y2="1503" stroke="#000"/>
<text x="192.19" y="1513.00" font-size="11.5" textLength="41.54" lengthAdjust="spacingAndGlyphs" fill="#000">1er Juin</text>
<line x1="225.5" y1="1501" x2="225.5" y2="1503" stroke="#c8c8c8"/>
<line x1="236.5" y1="1501" x2="236.5" y2="1503" stroke="#c8c8c8"/>
<line x1="247.5" y1="1501" x2="247.5" y2="1503" stroke="#c8c8c8"/>
<line x1="258.5" y1="1501" x2="258.5" y2="1503" stroke="#c8c8c8"/>
<line x1="269.5" y1="1498" x2="269.5" y2="1503" stroke="#000"/>
<text x="252.98" y="1513.00" font-size="11.5" textLength="30.27" lengthAdjust="spacingAndGlyphs" fill="#000">8 Juin</text>
<line x1="280.5" y1="1501" x2="280.5" y2="1503" stroke="#c8c8c8"/>
<line x1="291.5" y1="1501" x2="291.5" y2="1503" stroke="#c8c8c8"/>
<line x1="302.5" y1="1501" x2="302.5" y2="1503" stroke="#c8c8c8"/>
<line x1="313.5" y1="1501" x2="313.5" y2="1503" stroke="#c8c8c8"/>
<line x1="324.5" y1="1498" x2="324.5" y2="1503" stroke="#000"/>
<text x="304.35" y="1513.00" font-size="11.5" textLength="37.19" lengthAdjust="spacingAndGlyphs" fill="#000">15 Juin</text>
<line x1="335.5" y1="1501" x2="335.5" y2="1503" stroke="#c8c8c8"/>
<line x1="346.5" y1="1501" x2="346.5" y2="1503" stroke="#c8c8c8"/>
<line x1="357.5" y1="1501" x2="357.5" y2="1503" stroke="#c8c8c8"/>
<line x1="367.5" y1="1501" x2="367.5" y2="1503" stroke="#c8c8c8"/>
<line x1="378.5" y1="1498" x2="378.5" y2="1503" stroke="#000"/>
<text x="358.45" y="1513.00" font-size="11.5" textLength="37.29" lengthAdjust="spacingAndGlyphs" fill="#000">22 Juin</text>
<line x1="389.5" y1="1501" x2="389.5" y2="1503" stroke="#c8c8c8"/>
<line x1="400.5" y1="1501" x2="400.5" y2="1503" stroke="#c8c8c8"/>
<line x1="411.5" y1="1501" x2="411.5" y2="1503" stroke="#c8c8c8"/>
<line x1="422.5" y1="1501" x2="422.5" y2="1503" stroke="#c8c8c8"/>
<line x1="433.5" y1="1498" x2="433.5" y2="1503" stroke="#000"/>
<text x="413.45" y="1513.00" font-size="11.5" textLength="37.29" lengthAdjust="spacingAndGlyphs" fill="#000">29 Juin</text>
<line x1="444.5" y1="1501" x2="444.5" y2="1503" stroke="#c8c8c8"/>
<line x1="455.5" y1="1501" x2="455.5" y2="1503" stroke="#c8c8c8"/>
<line x1="466.5" y1="1501" x2="466.5" y2="1503" stroke="#c8c8c8"/>
<line x1="477.5" y1="1501" x2="477.5" y2="1503" stroke="#c8c8c8"/>
<line x1="488.5" y1="1498" x2="488.5" y2="1503" stroke="#000"/>
<text x="473.94" y="1513.00" font-size="11.5" textLength="26.32" lengthAdjust="spacingAndGlyphs" fill="#000">6 Juil</text>
<line x1="499.5" y1="1501" x2="499.5" y2="1503" stroke="#c8c8c8"/>
<line x1="510.5" y1="1501" x2="510.5" y2="1503" stroke="#c8c8c8"/>
<line x1="521.5" y1="1501" x2="521.5" y2="1503" stroke="#c8c8c8"/>
<line x1="532.5" y1="1501" x2="532.5" y2="1503" stroke="#c8c8c8"/>
<line x1="542.5" y1="1498" x2="542.5" y2="1503" stroke="#000"/>
<text x="524.35" y="1513.00" font-size="11.5" textLength="33.19" lengthAdjust="spacingAndGlyphs" fill="#000">13 Juil</text>
<line x1="553.5" y1="1501" x2="553.5" y2="1503" stroke="#c8c8c8"/>
<line x1="564.5" y1="1501" x2="564.5" y2="1503" stroke="#c8c8c8"/>
<line x1="575.5" y1="1501" x2="575.5" y2="1503" stroke="#c8c8c8"/>
<line x1="586.5" y1="1501" x2="586.5" y2="1503" stroke="#c8c8c8"/>
<line x1="597.5" y1="1498" x2="597.5" y2="1503" stroke="#000"/>
<text x="579.45" y="1513.00" font-size="11.5" textLength="33.29" lengthAdjust="spacingAndGlyphs" fill="#000">20 Juil</text>
<line x1="608.5" y1="1501" x2="608.5" y2="1503" stroke="#c8c8c8"/>
<line x1="619.5" y1="1501" x2="619.5" y2="1503" stroke="#c8c8c8"/>
<line x1="630.5" y1="1501" x2="630.5" y2="1503" stroke="#c8c8c8"/>
<line x1="641.5" y1="1501" x2="641.5" y2="1503" stroke="#c8c8c8"/>
<line x1="652.5" y1="1498" x2="652.5" y2="1503" stroke="#000"/>
<text x="634.45" y="1513.00" font-size="11.5" textLength="33.29" lengthAdjust="spacingAndGlyphs" fill="#000">27 Juil</text>
<line x1="663.5" y1="1501" x2="663.5" y2="1503" stroke="#c8c8c8"/>
<line x1="674.5" y1="1501" x2="674.5" y2="1503" stroke="#c8c8c8"/>
<line x1="685.5" y1="1501" x2="685.5" y2="1503" stroke="#c8c8c8"/>
<line x1="696.5" y1="1501" x2="696.5" y2="1503" stroke="#c8c8c8"/>
<line x1="707.5" y1="1498" x2="707.5" y2="1503" stroke="#000"/>
<text x="688.14" y="1514.20" font-size="11.5" textLength="35.36" lengthAdjust="spacingAndGlyphs" fill="#000">3 Août</text>
<line x1="717.5" y1="1501" x2="717.5" y2="1503" stroke="#c8c8c8"/>
<line x1="728.5" y1="1501" x2="728.5" y2="1503" stroke="#c8c8c8"/>
<line x1="739.5" y1="1501" x2="739.5" y2="1503" stroke="#c8c8c8"/>
<line x1="750.5" y1="1501" x2="750.5" y2="1503" stroke="#c8c8c8"/>
<line x1="761.5" y1="1498" x2="761.5" y2="1503" stroke="#000"/>
<text x="738.38" y="1514.20" font-size="11.5" textLength="42.45" lengthAdjust="spacingAndGlyphs" fill="#000">10 Août</text>
<line x1="772.5" y1="1501" x2="772.5" y2="1503" stroke="#c8c8c8"/>
<line x1="783.5" y1="1501" x2="783.5" y2="1503" stroke="#c8c8c8"/>
<line x1="794.5" y1="1501" x2="794.5" y2="1503" stroke="#c8c8c8"/>
<line x1="805.5" y1="1501" x2="805.5" y2="1503" stroke="#c8c8c8"/>
<line x1="816.5" y1="1498" x2="816.5" y2="1503" stroke="#000"/>
<text x="793.38" y="1514.20" font-size="11.5" textLength="42.45" lengthAdjust="spacingAndGlyphs" fill="#000">17 Août</text>
<line x1="827.5" y1="1501" x2="827.5" y2="1503" stroke="#c8c8c8"/>
<line x1="838.5" y1="1501" x2="838.5" y2="1503" stroke="#c8c8c8"/>
<line x1="849.5" y1="1501" x2="849.5" y2="1503" stroke="#c8c8c8"/>
<line x1="860.5" y1="1501" x2="860.5" y2="1503" stroke="#c8c8c8"/>
<line x1="871.5" y1="1498" x2="871.5" y2="1503" stroke="#000"/>
<text x="848.50" y="1514.20" font-size="11.5" textLength="42.52" lengthAdjust="spacingAndGlyphs" fill="#000">24 Août</text>
<line x1="882.5" y1="1501" x2="882.5" y2="1503" stroke="#c8c8c8"/>
<line x1="892.5" y1="1501" x2="892.5" y2="1503" stroke="#c8c8c8"/>
<line x1="903.5" y1="1501" x2="903.5" y2="1503" stroke="#c8c8c8"/>
<line x1="914.5" y1="1501" x2="914.5" y2="1503" stroke="#c8c8c8"/>
<line x1="925.5" y1="1498" x2="925.5" y2="1503" stroke="#000"/>
<text x="902.64" y="1514.20" font-size="11.5" textLength="42.36" lengthAdjust="spacingAndGlyphs" fill="#000">31 Août</text>
<line x1="936.5" y1="1501" x2="936.5" y2="1503" stroke="#c8c8c8"/>
<line x1="947.5" y1="1501" x2="947.5" y2="1503" stroke="#c8c8c8"/>
<line x1="958.5" y1="1501" x2="958.5" y2="1503" stroke="#c8c8c8"/>
<line x1="969.5" y1="1501" x2="969.5" y2="1503" stroke="#c8c8c8"/>
<line x1="980.5" y1="1498" x2="980.5" y2="1503" stroke="#000"/>
<text x="961.17" y="1513.00" font-size="11.5" textLength="35.14" lengthAdjust="spacingAndGlyphs" fill="#000">7 Sept</text>
<line x1="991.5" y1="1501" x2="991.5" y2="1503" stroke="#c8c8c8"/>
<line x1="1002.5" y1="1501" x2="1002.5" y2="1503" stroke="#c8c8c8"/>
<line x1="1013.5" y1="1501" x2="1013.5" y2="1503" stroke="#c8c8c8"/>
<line x1="1024.5" y1="1501" x2="1024.5" y2="1503" stroke="#c8c8c8"/>
<line x1="1035.5" y1="1498" x2="1035.5" y2="1503" stroke="#000"/>
<text x="1012.55" y="1513.00" font-size="11.5" textLength="42.10" lengthAdjust="spacingAndGlyphs" fill="#000">14 Sept</text>
<line x1="1046.5" y1="1501" x2="1046.5" y2="1503" stroke="#c8c8c8"/>
<line x1="1057.5" y1="1501" x2="1057.5" y2="1503" stroke="#c8c8c8"/>
<line x1="1067.5" y1="1501" x2="1067.5" y2="1503" stroke="#c8c8c8"/>
<line x1="1078.5" y1="1501" x2="1078.5" y2="1503" stroke="#c8c8c8"/>
<line x1="1089.5" y1="1498" x2="1089.5" y2="1503" stroke="#000"/>
<text x="1066.66" y="1513.00" font-size="11.5" textLength="42.19" lengthAdjust="spacingAndGlyphs" fill="#000">21 Sept</text>
<line x1="1100.5" y1="1501" x2="1100.5" y2="1503" stroke="#c8c8c8"/>
<line x1="1111.5" y1="1501" x2="1111.5" y2="1503" stroke="#c8c8c8"/>
<line x1="1122.5" y1="1501" x2="1122.5" y2="1503" stroke="#c8c8c8"/>
<line x1="1133.5" y1="1501" x2="1133.5" y2="1503" stroke="#c8c8c8"/>
<line x1="1144.5" y1="1498" x2="1144.5" y2="1503" stroke="#000"/>
<text x="1121.66" y="1513.00" font-size="11.5" textLength="42.19" lengthAdjust="spacingAndGlyphs" fill="#000">28 Sept</text>
<text x="498.49" y="1527.00" font-size="11.5" textLength="249.24" lengthAdjust="spacingAndGlyphs" fill="#000">Date (du 18 Mai 2018 au 28 Septembre 2018)</text>
<text x="-1428.57" y="63.00" font-size="11.5" textLength="32.76" lengthAdjust="spacingAndGlyphs" transform="rotate(-90)">MACD</text>
<text x="109.68" y="1294.00" font-size="25" textLength="797.57" lengthAdjust="spacingAndGlyphs" fill="#000">Nexans: graphique du MACD - MACD(12,26,9) - AnalyBourse.com</text>
</svg>
</body></html>
